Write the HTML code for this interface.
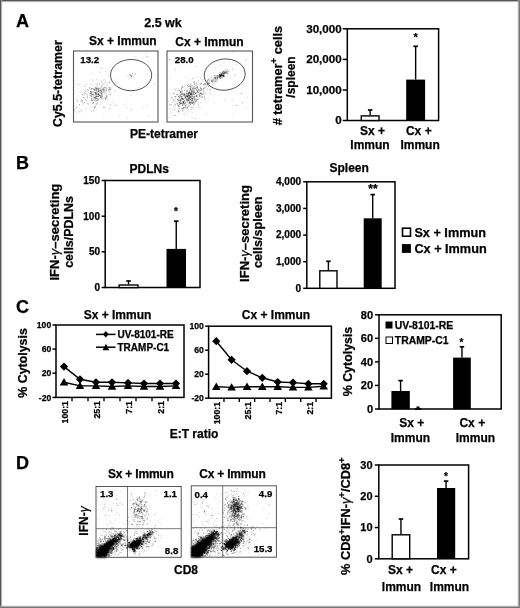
<!DOCTYPE html>
<html><head><meta charset="utf-8"><style>
html,body{margin:0;padding:0;background:#fff;}
body{width:520px;height:608px;overflow:hidden;position:relative;}
svg{position:absolute;left:0;top:0;will-change:transform;}
.fr{position:absolute;}
svg text{stroke:#000;stroke-width:0.25px;}
</style></head><body>
<svg width="520" height="608" viewBox="0 0 520 608" font-family="Liberation Sans" font-weight="bold">
<defs><filter id="bl" x="-20%" y="-20%" width="140%" height="140%"><feGaussianBlur stdDeviation="1.0"/></filter></defs>
<rect x="0" y="0" width="520" height="608" fill="#fff"/>
<text x="16" y="27" font-size="18" text-anchor="start">A</text>
<text x="163" y="27" font-size="12.5" text-anchor="middle">2.5 wk</text>
<text x="122.8" y="45.4" font-size="12" text-anchor="middle">Sx + Immun</text>
<text x="209.4" y="46" font-size="12" text-anchor="middle">Cx + Immun</text>
<text x="164" y="138" font-size="12" text-anchor="middle">PE-tetramer</text>
<text x="62" y="83.6" font-size="12.4" text-anchor="middle" transform="rotate(-90 62 83.6)">Cy5.5-tetramer</text>
<rect x="73.5" y="51" width="84.5" height="71" fill="none" stroke="#555" stroke-width="1.1"/>
<rect x="167" y="51" width="85.5" height="71" fill="none" stroke="#555" stroke-width="1.1"/>
<text x="80.3" y="63.2" font-size="9.7" text-anchor="start">13.2</text>
<text x="174.8" y="63.2" font-size="9.7" text-anchor="start">28.0</text>
<ellipse cx="131.1" cy="75.1" rx="20.6" ry="15.6" fill="none" stroke="#444" stroke-width="0.9"/>
<ellipse cx="224.7" cy="74.6" rx="20.5" ry="15.6" transform="rotate(-5 224.7 74.6)" fill="none" stroke="#444" stroke-width="0.9"/>
<path d="M104.2 94.3h0M104.2 93.7h0M94.7 95.4h0M86.2 101.3h0M109.3 92.8h0M99.0 95.2h0M99.1 94.0h0M94.1 90.5h0M90.9 93.3h0M99.8 86.3h0M101.4 97.0h0M89.9 92.8h0M104.2 92.5h0M100.4 95.5h0M98.8 92.1h0M100.4 90.1h0M99.4 95.6h0M97.0 94.4h0M91.9 98.5h0M95.5 93.2h0M98.0 96.3h0M97.1 94.0h0M102.0 95.1h0M103.3 87.6h0M96.9 98.3h0" stroke="#000" stroke-opacity="0.2" stroke-width="0.9" stroke-linecap="square" fill="none"/>
<path d="M89.7 97.4h0M101.8 95.0h0M98.8 91.0h0M104.6 90.0h0M96.6 98.5h0M101.4 85.8h0M90.9 95.4h0M102.2 93.1h0M91.2 85.0h0M94.0 97.4h0M90.3 89.3h0M97.0 88.8h0M103.4 91.2h0M106.9 88.5h0M106.4 90.3h0M93.7 94.3h0M99.1 90.6h0M96.6 98.9h0M102.1 90.1h0M84.8 92.8h0M95.8 94.3h0M86.3 94.6h0M92.4 94.1h0M97.9 83.6h0M108.1 82.9h0" stroke="#000" stroke-opacity="0.2" stroke-width="0.9" stroke-linecap="square" fill="none"/>
<path d="M99.2 95.1h0M101.3 94.2h0M100.0 104.2h0M94.7 97.3h0M95.8 94.7h0M91.5 91.8h0M101.0 95.0h0M97.9 90.1h0M87.9 93.8h0M106.3 93.6h0M108.8 94.1h0M97.2 96.1h0M101.1 93.7h0M93.3 102.4h0M92.9 95.3h0M101.9 92.9h0M96.1 88.5h0M82.0 100.3h0M90.0 84.1h0M92.0 97.9h0M96.9 96.8h0M96.0 97.6h0M93.3 95.8h0M94.8 98.7h0M99.3 98.5h0" stroke="#000" stroke-opacity="0.2" stroke-width="0.9" stroke-linecap="square" fill="none"/>
<path d="M96.7 96.1h0M98.3 93.8h0M101.7 89.4h0M92.9 88.8h0M100.4 93.4h0M97.0 95.8h0M104.5 90.9h0M90.1 91.7h0M94.2 100.5h0M93.5 88.6h0M89.8 95.7h0M107.1 97.5h0M112.1 87.9h0M92.1 96.6h0M104.7 87.0h0M103.0 89.0h0M104.6 91.8h0M95.9 96.7h0M92.0 103.6h0M97.1 85.2h0M95.4 98.8h0M105.7 91.3h0M92.3 97.0h0M106.9 96.1h0M101.5 91.2h0" stroke="#000" stroke-opacity="0.2" stroke-width="0.9" stroke-linecap="square" fill="none"/>
<path d="M92.8 95.1h0M87.1 94.8h0M93.7 92.0h0M100.0 92.0h0M94.4 100.4h0M98.9 95.8h0M103.3 89.1h0M115.2 79.9h0M99.7 95.5h0M95.4 96.2h0M97.0 89.3h0M90.8 95.2h0M100.0 90.7h0M97.1 98.6h0M97.0 96.2h0M80.3 101.2h0M88.8 90.6h0M98.5 96.3h0M84.7 93.1h0M93.6 94.6h0M79.7 84.4h0M92.1 88.6h0M77.0 99.2h0M95.5 97.1h0M79.0 104.8h0" stroke="#000" stroke-opacity="0.2" stroke-width="0.9" stroke-linecap="square" fill="none"/>
<path d="M100.7 80.2h0M103.8 114.8h0M98.7 88.5h0M87.3 96.9h0M102.3 100.2h0M101.6 92.8h0M104.7 89.6h0M113.3 85.3h0M89.0 89.2h0M91.4 100.4h0M117.1 105.6h0M91.5 96.9h0M76.2 113.0h0M78.2 112.6h0M98.1 94.9h0M103.8 88.4h0M111.0 88.3h0M92.8 88.2h0M75.9 84.0h0M106.4 90.0h0M104.1 79.7h0M90.1 102.8h0M96.0 91.4h0M95.2 88.5h0M109.9 94.0h0" stroke="#000" stroke-opacity="0.2" stroke-width="0.9" stroke-linecap="square" fill="none"/>
<path d="M94.5 98.7h0M76.1 99.4h0M96.2 103.6h0M90.8 106.6h0M94.4 89.4h0M85.6 93.5h0M109.3 91.3h0M109.3 75.7h0M93.4 99.5h0M78.3 111.1h0M107.7 99.3h0M97.3 102.5h0M97.6 100.7h0M90.3 91.3h0M86.6 108.3h0M90.9 95.0h0M83.0 104.3h0M86.7 100.6h0M104.9 90.6h0M106.4 92.3h0M93.9 89.5h0M74.3 109.5h0M96.1 96.0h0M78.3 84.2h0M86.7 91.1h0" stroke="#000" stroke-opacity="0.2" stroke-width="0.9" stroke-linecap="square" fill="none"/>
<path d="M101.0 99.2h0M100.1 92.0h0M105.6 71.5h0M75.2 111.5h0M98.6 89.4h0M83.3 103.7h0M97.8 92.9h0M107.0 100.1h0M87.8 91.4h0M84.0 93.0h0M82.8 100.8h0M84.8 90.5h0M96.8 79.7h0M100.8 102.5h0M103.8 99.6h0M81.6 101.7h0M97.5 84.3h0M92.5 79.9h0M99.0 92.8h0M91.5 111.4h0M97.4 100.9h0M93.6 97.4h0M106.1 99.5h0M79.5 111.9h0M124.9 104.8h0" stroke="#000" stroke-opacity="0.2" stroke-width="0.9" stroke-linecap="square" fill="none"/>
<path d="M78.1 108.3h0M110.7 90.8h0M96.2 85.5h0M79.8 91.9h0M98.1 94.3h0M85.5 91.1h0M100.1 91.1h0M93.5 93.8h0M133.0 77.3h0M131.0 77.8h0M129.7 74.7h0M133.1 75.8h0M119.4 116.0h0M90.8 93.3h0M126.8 107.3h0M99.7 72.4h0M147.0 105.2h0M75.0 109.4h0M112.4 102.4h0M92.9 59.2h0M77.7 74.8h0M131.2 109.5h0M96.2 89.7h0M138.8 87.6h0M126.8 117.6h0" stroke="#000" stroke-opacity="0.2" stroke-width="0.9" stroke-linecap="square" fill="none"/>
<path d="M146.2 53.0h0M125.9 99.1h0M131.4 110.3h0M133.6 90.8h0M91.8 94.3h0M148.7 61.8h0M83.2 115.2h0M86.1 54.0h0M130.9 95.1h0M134.5 56.5h0M149.0 116.2h0M91.3 59.6h0M143.6 107.2h0M141.7 94.9h0M82.6 58.7h0M91.2 73.7h0M194.3 94.1h0M187.6 91.4h0M186.6 90.4h0M189.2 96.2h0M190.5 79.8h0M201.6 96.2h0M185.4 101.8h0M192.9 91.5h0M191.3 97.6h0" stroke="#000" stroke-opacity="0.2" stroke-width="0.9" stroke-linecap="square" fill="none"/>
<path d="M185.1 103.9h0M192.3 102.0h0M190.9 100.5h0M185.2 105.1h0M181.7 87.8h0M170.1 105.8h0M196.9 89.9h0M187.5 98.2h0M197.0 89.8h0M191.2 89.6h0M188.8 102.0h0M200.2 91.0h0M188.2 95.7h0M198.8 89.0h0M192.1 96.4h0M190.1 90.4h0M199.2 85.6h0M195.6 88.1h0M196.3 94.9h0M182.3 87.2h0M186.0 101.7h0M186.9 96.5h0M177.5 103.8h0M189.9 98.7h0M199.6 91.3h0" stroke="#000" stroke-opacity="0.2" stroke-width="0.9" stroke-linecap="square" fill="none"/>
<path d="M189.6 104.9h0M196.0 85.6h0M188.8 95.3h0M181.5 91.1h0M184.8 106.4h0M194.2 88.6h0M185.2 87.7h0M188.9 96.4h0M184.4 99.0h0M185.2 95.8h0M184.2 103.8h0M180.0 100.8h0M189.0 97.6h0M190.2 97.6h0M203.5 85.2h0M183.3 95.4h0M183.0 102.6h0M210.2 82.4h0M176.7 88.7h0M189.2 93.3h0M191.5 98.4h0M192.1 97.7h0M187.0 90.0h0M182.7 110.0h0M187.8 100.8h0" stroke="#000" stroke-opacity="0.2" stroke-width="0.9" stroke-linecap="square" fill="none"/>
<path d="M191.8 93.5h0M183.8 113.5h0M191.2 90.1h0M190.8 102.3h0M189.9 97.7h0M182.6 94.8h0M192.5 87.5h0M175.0 104.2h0M194.7 83.1h0M189.7 99.2h0M189.0 106.4h0M197.9 96.8h0M178.2 99.8h0M196.6 85.9h0M190.1 90.5h0M204.8 85.2h0M187.6 96.6h0M188.0 104.9h0M194.5 92.0h0M197.1 90.4h0M180.5 101.4h0M191.6 96.9h0M184.2 100.8h0M187.1 100.8h0M184.5 114.4h0" stroke="#000" stroke-opacity="0.2" stroke-width="0.9" stroke-linecap="square" fill="none"/>
<path d="M189.6 92.5h0M194.2 89.2h0M178.2 103.4h0M181.4 99.5h0M189.9 95.2h0M192.9 88.2h0M184.5 98.0h0M199.0 91.1h0M172.6 109.5h0M188.6 95.5h0M197.0 84.1h0M193.2 103.3h0M187.4 108.1h0M203.4 90.5h0M193.6 97.5h0M193.0 96.8h0M168.7 101.4h0M190.3 88.5h0M184.9 101.4h0M208.3 99.1h0M182.0 105.7h0M210.8 93.7h0M200.5 89.6h0M192.8 88.4h0M189.5 103.8h0" stroke="#000" stroke-opacity="0.2" stroke-width="0.9" stroke-linecap="square" fill="none"/>
<path d="M169.6 104.5h0M193.8 100.9h0M198.0 91.5h0M199.2 98.8h0M185.7 98.9h0M193.7 87.6h0M192.2 100.9h0M204.9 92.7h0M198.6 102.9h0M186.4 112.1h0M169.4 108.6h0M194.5 100.3h0M169.2 117.5h0M201.4 88.5h0M183.4 99.3h0M187.4 113.8h0M183.4 102.5h0M194.2 109.9h0M175.3 100.2h0M190.5 87.6h0M180.4 96.3h0M182.0 109.3h0M179.4 96.7h0M187.8 99.3h0M189.8 99.8h0" stroke="#000" stroke-opacity="0.2" stroke-width="0.9" stroke-linecap="square" fill="none"/>
<path d="M182.1 87.8h0M175.2 107.2h0M189.2 111.5h0M184.2 94.1h0M204.3 83.6h0M192.0 95.5h0M192.0 101.4h0M198.2 94.3h0M198.0 106.6h0M187.2 90.6h0M198.6 80.5h0M209.8 92.5h0M196.9 94.9h0M189.0 92.6h0M185.3 89.3h0M194.2 92.3h0M205.5 93.3h0M180.0 91.6h0M198.6 95.2h0M191.9 101.6h0M184.6 86.1h0M189.7 105.4h0M198.4 89.6h0M193.6 91.4h0M178.9 112.5h0" stroke="#000" stroke-opacity="0.2" stroke-width="0.9" stroke-linecap="square" fill="none"/>
<path d="M189.4 91.0h0M179.0 94.5h0M191.6 91.6h0M187.6 101.7h0M183.9 99.1h0M178.8 101.3h0M189.0 92.6h0M203.1 89.5h0M177.3 100.9h0M184.2 92.8h0M190.7 96.8h0M193.9 88.5h0M188.5 89.0h0M193.4 88.1h0M189.2 98.2h0M174.9 90.5h0M210.9 77.1h0M182.6 98.4h0M185.1 95.8h0M191.7 96.2h0M200.7 78.4h0M181.0 101.9h0M177.5 99.4h0M194.4 91.3h0M175.7 104.5h0" stroke="#000" stroke-opacity="0.2" stroke-width="0.9" stroke-linecap="square" fill="none"/>
<path d="M190.6 98.6h0M203.9 87.9h0M204.4 94.8h0M173.2 103.2h0M195.2 104.9h0M202.9 96.9h0M179.0 95.6h0M178.9 96.5h0M198.8 107.7h0M205.7 100.2h0M200.2 97.4h0M175.1 101.8h0M184.2 96.0h0M185.2 95.7h0M172.5 98.1h0M214.3 102.9h0M205.6 98.9h0M202.3 109.1h0M189.9 91.4h0M196.6 95.3h0M203.7 91.6h0M183.7 109.9h0M193.6 90.8h0M178.9 111.2h0M191.6 91.4h0" stroke="#000" stroke-opacity="0.2" stroke-width="0.9" stroke-linecap="square" fill="none"/>
<path d="M186.9 77.3h0M203.4 93.6h0M170.1 98.6h0M203.7 85.1h0M204.2 99.6h0M180.4 96.9h0M172.7 99.1h0M190.7 94.9h0M189.9 93.6h0M195.9 82.4h0M171.5 112.6h0M197.7 96.1h0M194.0 100.8h0M179.4 95.8h0M203.5 91.1h0M194.9 95.1h0M187.8 102.8h0M187.9 106.8h0M191.4 83.9h0M183.2 103.1h0M207.1 75.7h0M182.8 111.2h0M173.4 101.1h0M178.5 100.7h0M190.0 103.1h0" stroke="#000" stroke-opacity="0.2" stroke-width="0.9" stroke-linecap="square" fill="none"/>
<path d="M211.2 88.6h0M175.6 104.4h0M191.0 97.9h0M182.6 110.4h0M185.1 95.8h0M177.2 111.2h0M191.8 92.8h0M196.1 89.6h0M195.5 94.3h0M186.8 91.4h0M184.7 93.3h0M203.5 88.2h0M197.2 77.7h0M193.6 98.2h0M191.3 102.1h0M182.3 91.9h0M187.0 99.1h0M203.8 93.7h0M174.2 101.8h0M203.2 94.6h0M186.7 100.0h0M200.7 102.4h0M193.5 86.6h0M177.1 95.0h0M181.1 94.6h0" stroke="#000" stroke-opacity="0.2" stroke-width="0.9" stroke-linecap="square" fill="none"/>
<path d="M188.1 109.0h0M190.5 88.6h0M201.0 90.3h0M190.0 96.4h0M178.4 88.4h0M196.9 92.7h0M191.2 96.2h0M201.1 95.1h0M199.8 109.3h0M193.1 98.6h0M223.6 73.2h0M222.7 78.5h0M209.4 80.2h0M210.9 80.2h0M213.7 83.2h0M219.2 75.3h0M214.2 83.1h0M207.7 85.5h0M223.7 76.3h0M222.5 75.7h0M216.0 78.7h0M207.5 83.8h0M218.0 78.1h0M226.8 71.7h0M211.4 80.4h0" stroke="#000" stroke-opacity="0.2" stroke-width="0.9" stroke-linecap="square" fill="none"/>
<path d="M214.8 78.5h0M216.3 79.8h0M215.1 78.4h0M214.5 79.3h0M227.2 72.8h0M222.7 73.6h0M221.9 75.4h0M216.6 77.4h0M209.3 80.2h0M224.0 72.4h0M224.5 72.8h0M208.6 83.2h0M222.1 74.9h0M217.3 78.2h0M220.1 72.6h0M217.9 77.0h0M215.4 80.4h0M209.6 81.8h0M222.1 73.8h0M213.2 80.2h0M215.1 80.4h0M215.1 76.8h0M227.0 71.8h0M212.4 78.7h0M222.3 72.4h0" stroke="#000" stroke-opacity="0.2" stroke-width="0.9" stroke-linecap="square" fill="none"/>
<path d="M203.3 84.6h0M224.3 71.6h0M217.5 78.7h0M221.1 74.6h0M223.3 73.3h0M228.5 70.8h0M204.3 88.0h0M212.8 80.2h0M224.3 70.7h0M204.9 84.8h0M225.8 72.5h0M208.1 79.5h0M217.5 75.7h0M219.9 76.9h0M207.6 88.8h0M217.2 75.4h0M216.3 78.4h0M220.3 74.8h0M226.1 73.2h0M229.9 62.4h0M170.6 78.7h0M192.1 112.6h0M215.7 67.9h0M232.7 100.3h0M171.4 94.0h0" stroke="#000" stroke-opacity="0.2" stroke-width="0.9" stroke-linecap="square" fill="none"/>
<path d="M206.1 114.6h0M245.6 80.0h0M175.3 68.6h0M224.0 62.3h0M179.6 65.5h0M233.3 84.6h0M232.3 113.8h0M220.5 65.5h0M237.8 105.5h0M227.2 75.7h0M247.7 97.7h0M234.2 92.1h0M192.7 117.3h0M187.1 65.5h0M224.5 100.3h0M232.7 106.0h0M245.7 108.2h0M233.4 52.3h0M202.5 93.1h0M195.7 66.5h0M237.7 94.1h0M175.3 70.4h0M178.0 98.4h0M235.9 64.5h0M247.0 76.6h0" stroke="#000" stroke-opacity="0.2" stroke-width="0.9" stroke-linecap="square" fill="none"/>
<path d="M95.3 96.9h0M98.5 99.9h0M91.2 93.6h0M98.7 90.8h0M93.0 91.9h0M89.9 93.7h0M96.3 90.5h0M102.0 95.7h0M91.6 88.9h0M101.0 90.0h0M105.4 82.1h0M95.8 93.0h0M84.7 86.3h0M95.6 98.8h0M98.7 94.6h0M84.2 95.0h0M88.5 104.0h0M97.8 99.0h0M91.3 100.1h0M94.1 89.7h0M96.0 92.9h0M99.5 84.1h0M106.1 97.4h0M95.5 94.2h0M109.8 88.8h0" stroke="#000" stroke-opacity="0.4" stroke-width="0.9" stroke-linecap="square" fill="none"/>
<path d="M98.1 88.1h0M94.8 97.5h0M109.7 89.3h0M114.8 83.3h0M98.4 96.5h0M107.1 85.7h0M89.4 87.8h0M98.4 89.6h0M99.6 95.1h0M98.3 91.2h0M106.3 89.9h0M103.3 90.1h0M95.7 97.7h0M103.7 89.3h0M97.2 94.3h0M100.5 97.5h0M91.6 94.3h0M98.1 88.3h0M91.1 92.3h0M94.5 90.1h0M81.7 100.2h0M82.5 94.5h0M91.5 88.7h0M102.8 98.2h0M105.4 98.8h0" stroke="#000" stroke-opacity="0.4" stroke-width="0.9" stroke-linecap="square" fill="none"/>
<path d="M77.4 101.2h0M100.6 97.0h0M96.8 93.2h0M108.4 89.7h0M84.4 102.6h0M96.8 96.7h0M110.8 94.5h0M97.9 91.9h0M92.6 100.3h0M96.6 96.5h0M99.9 88.7h0M100.3 89.0h0M102.0 86.2h0M98.7 94.8h0M104.1 84.0h0M95.6 106.1h0M92.3 94.4h0M91.6 99.2h0M97.9 99.8h0M97.0 87.3h0M100.7 92.6h0M95.8 93.3h0M104.1 87.8h0M98.4 91.3h0M84.7 97.6h0" stroke="#000" stroke-opacity="0.4" stroke-width="0.9" stroke-linecap="square" fill="none"/>
<path d="M101.0 87.4h0M106.8 96.3h0M90.7 91.3h0M96.5 94.2h0M96.9 88.6h0M95.7 93.0h0M96.4 91.1h0M87.2 97.9h0M100.0 95.9h0M101.8 93.9h0M85.4 99.7h0M101.2 91.6h0M102.0 96.8h0M105.1 97.8h0M106.2 87.9h0M110.0 87.4h0M87.2 89.6h0M96.2 89.3h0M94.0 98.1h0M102.0 91.9h0M96.6 100.1h0M101.8 93.9h0M102.4 96.2h0M109.1 87.7h0M98.6 93.7h0" stroke="#000" stroke-opacity="0.4" stroke-width="0.9" stroke-linecap="square" fill="none"/>
<path d="M102.8 89.0h0M103.5 92.0h0M102.8 84.2h0M87.3 96.0h0M95.3 88.0h0M96.8 88.5h0M94.8 107.3h0M95.9 101.2h0M94.2 107.9h0M95.7 87.7h0M79.6 104.8h0M106.2 95.7h0M109.5 82.4h0M92.9 103.3h0M81.2 110.6h0M76.4 107.5h0M103.1 90.0h0M115.1 90.8h0M96.4 104.4h0M82.3 102.1h0M103.8 107.1h0M119.7 87.2h0M85.9 84.4h0M91.9 92.0h0M95.2 99.9h0" stroke="#000" stroke-opacity="0.4" stroke-width="0.9" stroke-linecap="square" fill="none"/>
<path d="M101.3 81.9h0M105.9 98.4h0M110.6 89.6h0M93.7 110.2h0M91.9 101.0h0M101.0 96.4h0M87.2 103.7h0M105.3 87.5h0M115.1 105.2h0M91.0 96.2h0M98.2 89.8h0M97.1 103.1h0M101.5 98.1h0M95.2 92.6h0M91.7 93.0h0M83.3 97.4h0M110.5 104.3h0M108.9 90.7h0M101.2 91.0h0M95.3 89.9h0M109.9 108.7h0M100.8 90.5h0M94.8 92.3h0M94.6 107.3h0M130.6 75.5h0" stroke="#000" stroke-opacity="0.4" stroke-width="0.9" stroke-linecap="square" fill="none"/>
<path d="M131.3 76.7h0M131.5 76.7h0M131.3 75.5h0M132.6 73.4h0M131.0 75.2h0M129.9 74.5h0M128.1 76.1h0M93.7 102.6h0M135.3 74.2h0M101.3 68.3h0M154.3 83.9h0M104.1 107.6h0M147.1 56.5h0M187.7 95.6h0M177.9 104.9h0M192.3 100.5h0M188.0 100.3h0M185.6 97.6h0M199.8 95.8h0M191.3 87.2h0M189.8 101.9h0M189.3 86.4h0M194.7 86.4h0M192.6 99.6h0M185.8 96.1h0" stroke="#000" stroke-opacity="0.4" stroke-width="0.9" stroke-linecap="square" fill="none"/>
<path d="M192.2 85.7h0M179.0 106.5h0M179.1 100.6h0M195.0 99.2h0M188.1 84.1h0M178.6 96.6h0M184.7 90.7h0M178.3 105.7h0M185.4 94.6h0M179.6 102.5h0M182.1 91.1h0M181.2 96.4h0M191.6 103.1h0M188.1 97.0h0M179.5 104.6h0M188.5 100.2h0M183.8 93.7h0M191.7 109.1h0M183.3 99.6h0M198.4 99.2h0M192.3 90.9h0M189.2 100.7h0M180.0 103.7h0M191.5 91.7h0M177.7 99.5h0" stroke="#000" stroke-opacity="0.4" stroke-width="0.9" stroke-linecap="square" fill="none"/>
<path d="M189.4 98.9h0M180.8 100.2h0M180.2 101.5h0M192.7 89.7h0M191.7 94.2h0M187.9 95.5h0M197.3 91.4h0M190.5 94.4h0M183.7 103.2h0M189.6 91.9h0M185.5 107.8h0M183.4 98.5h0M197.1 88.1h0M181.4 93.3h0M187.0 93.4h0M189.8 97.0h0M197.8 87.7h0M194.4 84.6h0M188.7 100.9h0M185.9 102.9h0M191.1 94.2h0M175.0 96.7h0M195.9 93.3h0M207.2 81.5h0M186.2 98.7h0" stroke="#000" stroke-opacity="0.4" stroke-width="0.9" stroke-linecap="square" fill="none"/>
<path d="M189.9 96.3h0M200.5 93.7h0M181.4 93.1h0M182.8 104.3h0M182.4 105.2h0M200.5 87.3h0M184.2 95.4h0M194.2 90.1h0M194.3 83.1h0M182.8 87.4h0M190.0 103.2h0M189.1 86.0h0M199.8 96.3h0M195.4 88.5h0M193.6 101.8h0M182.5 96.8h0M186.7 99.0h0M189.9 92.4h0M175.8 98.1h0M194.2 92.5h0M177.9 90.3h0M194.2 94.6h0M200.8 93.4h0M186.4 93.0h0M188.8 99.0h0" stroke="#000" stroke-opacity="0.4" stroke-width="0.9" stroke-linecap="square" fill="none"/>
<path d="M188.5 95.4h0M191.9 92.6h0M183.7 94.0h0M192.5 88.6h0M192.8 91.0h0M186.9 99.9h0M186.6 93.7h0M190.9 93.9h0M202.2 90.0h0M194.1 102.4h0M191.6 102.2h0M199.4 94.8h0M194.2 103.4h0M192.5 99.0h0M197.5 92.3h0M185.5 97.4h0M187.3 91.4h0M180.6 100.1h0M198.4 92.5h0M194.8 97.9h0M188.3 99.1h0M194.5 99.3h0M190.3 93.9h0M180.3 103.8h0M186.4 96.8h0" stroke="#000" stroke-opacity="0.4" stroke-width="0.9" stroke-linecap="square" fill="none"/>
<path d="M190.4 94.4h0M173.6 99.8h0M189.0 102.8h0M186.9 94.7h0M182.0 94.6h0M192.3 102.9h0M179.8 98.0h0M182.1 98.8h0M189.6 102.9h0M183.3 102.6h0M188.7 92.9h0M182.7 105.7h0M196.6 84.0h0M188.2 87.1h0M176.9 103.2h0M200.9 90.7h0M171.0 104.5h0M183.7 95.0h0M182.1 103.7h0M187.7 99.6h0M193.6 92.9h0M180.6 99.2h0M183.9 101.7h0M178.9 111.7h0M185.8 97.1h0" stroke="#000" stroke-opacity="0.4" stroke-width="0.9" stroke-linecap="square" fill="none"/>
<path d="M181.7 103.6h0M202.2 79.9h0M203.6 88.5h0M192.2 98.4h0M182.5 93.4h0M189.0 98.4h0M194.8 88.3h0M201.5 89.1h0M190.7 102.2h0M194.9 96.4h0M186.7 104.8h0M192.6 78.3h0M190.9 89.9h0M174.7 109.5h0M188.1 99.8h0M182.5 86.1h0M188.0 106.4h0M190.5 96.0h0M187.6 96.2h0M179.5 90.6h0M175.2 89.2h0M198.4 104.8h0M179.0 97.3h0M195.1 101.2h0M173.9 106.0h0" stroke="#000" stroke-opacity="0.4" stroke-width="0.9" stroke-linecap="square" fill="none"/>
<path d="M207.5 80.5h0M184.8 107.5h0M199.6 96.0h0M200.7 84.5h0M193.2 102.7h0M184.5 100.7h0M196.6 100.9h0M182.6 99.1h0M201.1 92.7h0M171.5 97.3h0M183.9 103.9h0M198.3 89.8h0M193.6 104.7h0M200.1 83.8h0M187.2 97.0h0M223.3 71.8h0M207.4 84.5h0M205.2 84.1h0M204.8 83.9h0M217.2 81.5h0M223.3 73.7h0M213.2 81.5h0M208.7 83.1h0M225.2 71.6h0M217.4 78.1h0" stroke="#000" stroke-opacity="0.4" stroke-width="0.9" stroke-linecap="square" fill="none"/>
<path d="M219.6 76.6h0M213.6 78.9h0M225.8 72.8h0M207.5 84.3h0M208.5 83.2h0M214.8 81.7h0M209.0 78.9h0M205.1 87.7h0M207.5 82.7h0M208.7 83.7h0M212.3 85.0h0M211.9 81.5h0M215.3 78.9h0M215.5 81.5h0M218.4 76.7h0M223.2 76.7h0M228.9 71.4h0M211.4 81.4h0M225.3 72.9h0M221.0 75.6h0M213.0 80.3h0M225.0 72.0h0M220.0 76.7h0M221.3 72.9h0M219.7 74.4h0" stroke="#000" stroke-opacity="0.4" stroke-width="0.9" stroke-linecap="square" fill="none"/>
<path d="M211.5 80.9h0M225.7 69.8h0M209.6 83.6h0M223.7 71.3h0M226.0 72.8h0M224.3 73.2h0M217.0 79.1h0M221.9 77.4h0M208.4 80.0h0M216.3 80.3h0M223.7 72.0h0M227.3 70.2h0M226.6 72.2h0M217.0 76.2h0M220.6 73.3h0M205.7 84.0h0M208.5 86.5h0M206.4 86.7h0M221.8 73.7h0M215.5 78.6h0M211.7 77.4h0M224.5 73.5h0M212.5 82.0h0M211.9 80.0h0M214.8 75.7h0" stroke="#000" stroke-opacity="0.4" stroke-width="0.9" stroke-linecap="square" fill="none"/>
<path d="M226.8 71.7h0M219.9 74.9h0M221.3 75.9h0M220.4 75.1h0M219.5 77.4h0M220.4 75.9h0M217.2 77.5h0M214.5 77.6h0M219.8 75.7h0M221.9 77.9h0M215.0 75.6h0M224.8 73.7h0M219.5 77.1h0M218.4 75.6h0M223.5 75.9h0M218.1 77.7h0M224.2 77.0h0M223.3 75.7h0M217.8 76.2h0M221.9 76.4h0M215.1 77.4h0M217.1 76.0h0M188.3 92.7h0M235.2 75.3h0M195.3 118.4h0" stroke="#000" stroke-opacity="0.4" stroke-width="0.9" stroke-linecap="square" fill="none"/>
<path d="M179.1 108.3h0M242.6 102.7h0M236.1 105.3h0M246.0 59.9h0M233.0 69.1h0M187.5 85.5h0M175.2 96.4h0M196.0 92.5h0M169.3 59.5h0M204.5 96.9h0M241.4 93.5h0" stroke="#000" stroke-opacity="0.4" stroke-width="0.9" stroke-linecap="square" fill="none"/>
<path d="M197.1 90.8h0M191.0 93.2h0M180.9 100.2h0M191.7 90.9h0M183.3 101.9h0M190.5 99.5h0M182.2 99.1h0M185.5 105.9h0M186.9 100.2h0M188.6 93.6h0M194.5 96.7h0M190.5 104.2h0M190.6 86.6h0M185.0 97.0h0M179.0 100.0h0M181.9 98.5h0M189.3 93.0h0M197.3 99.2h0M180.7 91.9h0M178.6 110.7h0M201.3 94.0h0M189.8 92.6h0M196.4 87.7h0M181.7 89.0h0M189.5 95.3h0" stroke="#000" stroke-opacity="0.6" stroke-width="0.9" stroke-linecap="square" fill="none"/>
<path d="M184.5 94.5h0M181.1 103.0h0M199.1 90.0h0M180.5 95.8h0M199.9 93.2h0M193.5 94.0h0M181.0 94.5h0M192.4 95.1h0M191.9 94.1h0M193.9 92.0h0M187.3 94.0h0M183.0 101.5h0M188.3 98.2h0M173.8 93.5h0M177.0 94.4h0M180.8 103.3h0M190.6 94.2h0M187.0 107.8h0M196.7 96.1h0M192.6 103.3h0M190.0 102.9h0M190.3 96.8h0M209.9 89.9h0M190.3 89.5h0M190.4 85.0h0" stroke="#000" stroke-opacity="0.6" stroke-width="0.9" stroke-linecap="square" fill="none"/>
<path d="M201.4 83.2h0M196.2 100.1h0M189.6 97.1h0M192.0 107.5h0M202.2 97.3h0M192.1 98.3h0M191.4 94.6h0M174.9 115.6h0M191.9 100.2h0M188.6 94.3h0M182.1 108.5h0M187.8 96.6h0M202.2 94.2h0M187.6 96.4h0M195.1 98.9h0M195.7 101.9h0M183.4 102.4h0M182.1 98.3h0M185.2 103.0h0M194.2 81.9h0M200.9 88.6h0M180.5 92.4h0M196.5 96.2h0M195.5 93.4h0M192.9 96.8h0" stroke="#000" stroke-opacity="0.6" stroke-width="0.9" stroke-linecap="square" fill="none"/>
<path d="M192.1 93.0h0M178.3 105.8h0M183.6 107.4h0M186.4 96.0h0M183.0 108.5h0M181.5 96.9h0M190.3 88.5h0M179.9 103.1h0M184.2 104.0h0M191.9 99.0h0M197.4 86.8h0M222.0 73.8h0M222.5 72.2h0M220.4 76.5h0M219.7 75.2h0M223.6 75.4h0M227.6 73.3h0M220.3 76.8h0M215.4 77.5h0M220.9 74.8h0M220.7 76.0h0M223.9 75.4h0M219.7 75.9h0M224.1 72.5h0M223.4 75.7h0" stroke="#000" stroke-opacity="0.6" stroke-width="0.9" stroke-linecap="square" fill="none"/>
<path d="M224.0 74.0h0" stroke="#000" stroke-opacity="0.6" stroke-width="0.9" stroke-linecap="square" fill="none"/>
<path d="M221.8 74.7h0M219.8 75.1h0M220.7 75.3h0M223.1 74.3h0M223.9 76.3h0M221.7 74.7h0M220.2 78.3h0M221.7 75.7h0M222.4 75.7h0" stroke="#000" stroke-opacity="0.8" stroke-width="0.9" stroke-linecap="square" fill="none"/>
<rect x="347.3" y="28.8" width="91.30000000000001" height="91.7" fill="none" stroke="#000" stroke-width="1.5"/>
<line x1="342.7" y1="28.8" x2="347.3" y2="28.8" stroke="#000" stroke-width="1.5"/>
<text x="341.7" y="32.744" font-size="11.6" text-anchor="end">30,000</text>
<line x1="342.7" y1="59.4" x2="347.3" y2="59.4" stroke="#000" stroke-width="1.5"/>
<text x="341.7" y="63.344" font-size="11.6" text-anchor="end">20,000</text>
<line x1="342.7" y1="90" x2="347.3" y2="90" stroke="#000" stroke-width="1.5"/>
<text x="341.7" y="93.944" font-size="11.6" text-anchor="end">10,000</text>
<line x1="342.7" y1="120.5" x2="347.3" y2="120.5" stroke="#000" stroke-width="1.5"/>
<text x="341.7" y="124.444" font-size="11.6" text-anchor="end">0</text>
<line x1="370.15" y1="110" x2="370.15" y2="115.3" stroke="#000" stroke-width="1.4"/>
<line x1="367.9" y1="110" x2="372.4" y2="110" stroke="#000" stroke-width="1.68"/>
<rect x="361.3" y="115.89999999999999" width="17.700000000000035" height="4.600000000000003" fill="#fff" stroke="#000" stroke-width="1.4"/>
<line x1="415.65" y1="46.3" x2="415.65" y2="79.6" stroke="#000" stroke-width="1.4"/>
<line x1="413.4" y1="46.3" x2="417.9" y2="46.3" stroke="#000" stroke-width="1.68"/>
<rect x="406.2" y="79.6" width="18.900000000000034" height="40.900000000000006" fill="#000"/>
<text x="415.6" y="41" font-size="11" text-anchor="middle">*</text>
<text x="372.5" y="134.9" font-size="12" text-anchor="middle">Sx +</text>
<text x="370" y="148.8" font-size="12" text-anchor="middle">Immun</text>
<text x="418.8" y="134.9" font-size="12" text-anchor="middle">Cx +</text>
<text x="420.1" y="148.8" font-size="12" text-anchor="middle">Immun</text>
<text x="281.8" y="75.6" font-size="12.8" text-anchor="middle" transform="rotate(-90 281.8 75.6)"># tetramer<tspan font-size="9.5" dy="-4.5">+</tspan><tspan dy="4.5"> cells</tspan></text>
<text x="295" y="77" font-size="12" text-anchor="middle" transform="rotate(-90 295 77)">/spleen</text>
<text x="16" y="168.5" font-size="18" text-anchor="start">B</text>
<rect x="105.2" y="180.5" width="94.8" height="107.0" fill="none" stroke="#000" stroke-width="1.5"/>
<line x1="101.60000000000001" y1="180.5" x2="105.2" y2="180.5" stroke="#000" stroke-width="1.5"/>
<text x="100.00000000000001" y="183.9" font-size="10" text-anchor="end">150</text>
<line x1="101.60000000000001" y1="216.2" x2="105.2" y2="216.2" stroke="#000" stroke-width="1.5"/>
<text x="100.00000000000001" y="219.6" font-size="10" text-anchor="end">100</text>
<line x1="101.60000000000001" y1="251.8" x2="105.2" y2="251.8" stroke="#000" stroke-width="1.5"/>
<text x="100.00000000000001" y="255.20000000000002" font-size="10" text-anchor="end">50</text>
<line x1="101.60000000000001" y1="287.5" x2="105.2" y2="287.5" stroke="#000" stroke-width="1.5"/>
<text x="100.00000000000001" y="290.9" font-size="10" text-anchor="end">0</text>
<text x="149.2" y="172.7" font-size="12" text-anchor="middle">PDLNs</text>
<line x1="128.55" y1="281" x2="128.55" y2="284.4" stroke="#000" stroke-width="1.4"/>
<line x1="126.30000000000001" y1="281" x2="130.8" y2="281" stroke="#000" stroke-width="1.68"/>
<rect x="119.1" y="285.0" width="18.899999999999995" height="2.6000000000000454" fill="#fff" stroke="#000" stroke-width="1.4"/>
<line x1="176.25" y1="221.2" x2="176.25" y2="248.9" stroke="#000" stroke-width="1.4"/>
<line x1="174.0" y1="221.2" x2="178.5" y2="221.2" stroke="#000" stroke-width="1.68"/>
<rect x="166.5" y="248.9" width="19.5" height="38.70000000000002" fill="#000"/>
<text x="176" y="215" font-size="10" text-anchor="middle">*</text>
<text x="58.6" y="232.1" font-size="13" text-anchor="middle" transform="rotate(-90 58.6 232.1)">IFN-<tspan font-weight="normal" font-style="italic">γ</tspan>–secreting</text>
<text x="72.5" y="232" font-size="12.4" text-anchor="middle" transform="rotate(-90 72.5 232)">cells/PDLNs</text>
<rect x="306.8" y="181.8" width="88.19999999999999" height="106.5" fill="none" stroke="#000" stroke-width="1.5"/>
<line x1="303.2" y1="181.8" x2="306.8" y2="181.8" stroke="#000" stroke-width="1.5"/>
<text x="301.2" y="185.234" font-size="10.1" text-anchor="end">4,000</text>
<line x1="303.2" y1="208.4" x2="306.8" y2="208.4" stroke="#000" stroke-width="1.5"/>
<text x="301.2" y="211.834" font-size="10.1" text-anchor="end">3,000</text>
<line x1="303.2" y1="235.05" x2="306.8" y2="235.05" stroke="#000" stroke-width="1.5"/>
<text x="301.2" y="238.484" font-size="10.1" text-anchor="end">2,000</text>
<line x1="303.2" y1="261.7" x2="306.8" y2="261.7" stroke="#000" stroke-width="1.5"/>
<text x="301.2" y="265.134" font-size="10.1" text-anchor="end">1,000</text>
<line x1="303.2" y1="288.3" x2="306.8" y2="288.3" stroke="#000" stroke-width="1.5"/>
<text x="301.2" y="291.73400000000004" font-size="10.1" text-anchor="end">0</text>
<text x="349.2" y="171.6" font-size="12" text-anchor="middle">Spleen</text>
<line x1="328.4" y1="261.3" x2="328.4" y2="270.2" stroke="#000" stroke-width="1.4"/>
<line x1="326.15" y1="261.3" x2="330.65" y2="261.3" stroke="#000" stroke-width="1.68"/>
<rect x="319.8" y="270.8" width="17.200000000000035" height="17.50000000000002" fill="#fff" stroke="#000" stroke-width="1.4"/>
<line x1="372.7" y1="194.6" x2="372.7" y2="218.3" stroke="#000" stroke-width="1.4"/>
<line x1="370.45" y1="194.6" x2="374.95" y2="194.6" stroke="#000" stroke-width="1.68"/>
<rect x="363.7" y="218.3" width="18.0" height="70.0" fill="#000"/>
<text x="372.9" y="193.3" font-size="12" text-anchor="middle">**</text>
<text x="248.8" y="233.5" font-size="13" text-anchor="middle" transform="rotate(-90 248.8 233.5)">IFN-<tspan font-weight="normal" font-style="italic">γ</tspan>–secreting</text>
<text x="262.3" y="232.3" font-size="12.6" text-anchor="middle" transform="rotate(-90 262.3 232.3)">cells/spleen</text>
<rect x="402.5" y="228.2" width="8" height="8" fill="#fff" stroke="#000" stroke-width="1.6"/>
<text x="414.4" y="237" font-size="12.7" text-anchor="start">Sx + Immun</text>
<rect x="401.9" y="244.1" width="9" height="8.8" fill="#000"/>
<text x="414.4" y="253.1" font-size="12.7" text-anchor="start">Cx + Immun</text>
<text x="16" y="313.3" font-size="18" text-anchor="start">C</text>
<rect x="56" y="325" width="128" height="72.39999999999998" fill="none" stroke="#000" stroke-width="1.5"/>
<line x1="52.5" y1="325" x2="56" y2="325" stroke="#000" stroke-width="1.5"/>
<text x="51.2" y="328.1" font-size="8.6" text-anchor="end">100</text>
<line x1="52.5" y1="349.1" x2="56" y2="349.1" stroke="#000" stroke-width="1.5"/>
<text x="51.2" y="352.20000000000005" font-size="8.6" text-anchor="end">60</text>
<line x1="52.5" y1="373.2" x2="56" y2="373.2" stroke="#000" stroke-width="1.5"/>
<text x="51.2" y="376.3" font-size="8.6" text-anchor="end">20</text>
<line x1="52.5" y1="397.4" x2="56" y2="397.4" stroke="#000" stroke-width="1.5"/>
<text x="51.2" y="400.5" font-size="8.6" text-anchor="end">-20</text>
<line x1="72.0" y1="397.4" x2="72.0" y2="401.2" stroke="#000" stroke-width="1.4"/>
<line x1="88.0" y1="397.4" x2="88.0" y2="401.2" stroke="#000" stroke-width="1.4"/>
<line x1="104.0" y1="397.4" x2="104.0" y2="401.2" stroke="#000" stroke-width="1.4"/>
<line x1="120.0" y1="397.4" x2="120.0" y2="401.2" stroke="#000" stroke-width="1.4"/>
<line x1="136.0" y1="397.4" x2="136.0" y2="401.2" stroke="#000" stroke-width="1.4"/>
<line x1="152.0" y1="397.4" x2="152.0" y2="401.2" stroke="#000" stroke-width="1.4"/>
<line x1="168.0" y1="397.4" x2="168.0" y2="401.2" stroke="#000" stroke-width="1.4"/>
<polyline fill="none" stroke="#000" stroke-width="1.4" points="64.0,366.6 80.0,379.3 96.0,382.3 112.0,382.3 128.0,382.9 144.0,383.5 160.0,383.5 176.0,383.5"/>
<polyline fill="none" stroke="#000" stroke-width="1.4" points="64.0,382.3 80.0,385.9 96.0,385.9 112.0,386.5 128.0,385.9 144.0,386.5 160.0,386.5 176.0,385.9"/>
<polygon points="64.0,362.5 68.1,366.6 64.0,370.7 59.9,366.6" fill="#000"/>
<polygon points="80.0,375.2 84.1,379.3 80.0,383.4 75.9,379.3" fill="#000"/>
<polygon points="96.0,378.2 100.1,382.3 96.0,386.4 91.9,382.3" fill="#000"/>
<polygon points="112.0,378.2 116.1,382.3 112.0,386.4 107.9,382.3" fill="#000"/>
<polygon points="128.0,378.8 132.1,382.9 128.0,387.0 123.9,382.9" fill="#000"/>
<polygon points="144.0,379.4 148.1,383.5 144.0,387.6 139.9,383.5" fill="#000"/>
<polygon points="160.0,379.4 164.1,383.5 160.0,387.6 155.9,383.5" fill="#000"/>
<polygon points="176.0,379.4 180.1,383.5 176.0,387.6 171.9,383.5" fill="#000"/>
<polygon points="64.0,378.1 68.3,385.5 59.7,385.5" fill="#000"/>
<polygon points="80.0,381.7 84.3,389.1 75.7,389.1" fill="#000"/>
<polygon points="96.0,381.7 100.3,389.1 91.7,389.1" fill="#000"/>
<polygon points="112.0,382.3 116.3,389.7 107.7,389.7" fill="#000"/>
<polygon points="128.0,381.7 132.3,389.1 123.7,389.1" fill="#000"/>
<polygon points="144.0,382.3 148.3,389.7 139.7,389.7" fill="#000"/>
<polygon points="160.0,382.3 164.3,389.7 155.7,389.7" fill="#000"/>
<polygon points="176.0,381.7 180.3,389.1 171.7,389.1" fill="#000"/>
<text x="68.2" y="401.0" font-size="8.8" text-anchor="end" transform="rotate(-90 68.2 401.0)">100:1</text>
<text x="100.2" y="401.0" font-size="8.8" text-anchor="end" transform="rotate(-90 100.2 401.0)">25:1</text>
<text x="132.2" y="401.0" font-size="8.8" text-anchor="end" transform="rotate(-90 132.2 401.0)">7:1</text>
<text x="164.2" y="401.0" font-size="8.8" text-anchor="end" transform="rotate(-90 164.2 401.0)">2:1</text>
<text x="117.5" y="319" font-size="12" text-anchor="middle">Sx + Immun</text>
<rect x="208.6" y="326.2" width="122.79999999999998" height="72.0" fill="none" stroke="#000" stroke-width="1.5"/>
<line x1="205.1" y1="326.2" x2="208.6" y2="326.2" stroke="#000" stroke-width="1.5"/>
<text x="203.79999999999998" y="329.3" font-size="8.6" text-anchor="end">100</text>
<line x1="205.1" y1="350.2" x2="208.6" y2="350.2" stroke="#000" stroke-width="1.5"/>
<text x="203.79999999999998" y="353.3" font-size="8.6" text-anchor="end">60</text>
<line x1="205.1" y1="374.2" x2="208.6" y2="374.2" stroke="#000" stroke-width="1.5"/>
<text x="203.79999999999998" y="377.3" font-size="8.6" text-anchor="end">20</text>
<line x1="205.1" y1="398.2" x2="208.6" y2="398.2" stroke="#000" stroke-width="1.5"/>
<text x="203.79999999999998" y="401.3" font-size="8.6" text-anchor="end">-20</text>
<line x1="223.95" y1="398.2" x2="223.95" y2="402.0" stroke="#000" stroke-width="1.4"/>
<line x1="239.29999999999998" y1="398.2" x2="239.29999999999998" y2="402.0" stroke="#000" stroke-width="1.4"/>
<line x1="254.64999999999998" y1="398.2" x2="254.64999999999998" y2="402.0" stroke="#000" stroke-width="1.4"/>
<line x1="270.0" y1="398.2" x2="270.0" y2="402.0" stroke="#000" stroke-width="1.4"/>
<line x1="285.34999999999997" y1="398.2" x2="285.34999999999997" y2="402.0" stroke="#000" stroke-width="1.4"/>
<line x1="300.7" y1="398.2" x2="300.7" y2="402.0" stroke="#000" stroke-width="1.4"/>
<line x1="316.04999999999995" y1="398.2" x2="316.04999999999995" y2="402.0" stroke="#000" stroke-width="1.4"/>
<polyline fill="none" stroke="#000" stroke-width="1.4" points="216.3,341.2 231.6,359.8 247.0,371.2 262.3,377.8 277.7,382.0 293.0,382.6 308.4,383.8 323.7,383.8"/>
<polyline fill="none" stroke="#000" stroke-width="1.4" points="216.3,386.8 231.6,387.4 247.0,386.8 262.3,386.8 277.7,386.8 293.0,387.4 308.4,387.4 323.7,386.2"/>
<polygon points="216.3,337.1 220.4,341.2 216.3,345.3 212.2,341.2" fill="#000"/>
<polygon points="231.6,355.7 235.7,359.8 231.6,363.9 227.5,359.8" fill="#000"/>
<polygon points="247.0,367.1 251.1,371.2 247.0,375.3 242.9,371.2" fill="#000"/>
<polygon points="262.3,373.7 266.4,377.8 262.3,381.9 258.2,377.8" fill="#000"/>
<polygon points="277.7,377.9 281.8,382.0 277.7,386.1 273.6,382.0" fill="#000"/>
<polygon points="293.0,378.5 297.1,382.6 293.0,386.7 288.9,382.6" fill="#000"/>
<polygon points="308.4,379.7 312.5,383.8 308.4,387.9 304.3,383.8" fill="#000"/>
<polygon points="323.7,379.7 327.8,383.8 323.7,387.9 319.6,383.8" fill="#000"/>
<polygon points="216.3,382.6 220.6,390.0 212.0,390.0" fill="#000"/>
<polygon points="231.6,383.2 235.9,390.6 227.3,390.6" fill="#000"/>
<polygon points="247.0,382.6 251.3,390.0 242.7,390.0" fill="#000"/>
<polygon points="262.3,382.6 266.6,390.0 258.0,390.0" fill="#000"/>
<polygon points="277.7,382.6 282.0,390.0 273.4,390.0" fill="#000"/>
<polygon points="293.0,383.2 297.3,390.6 288.7,390.6" fill="#000"/>
<polygon points="308.4,383.2 312.7,390.6 304.1,390.6" fill="#000"/>
<polygon points="323.7,382.0 328.0,389.4 319.4,389.4" fill="#000"/>
<text x="220.475" y="401.8" font-size="8.8" text-anchor="end" transform="rotate(-90 220.475 401.8)">100:1</text>
<text x="251.17499999999998" y="401.8" font-size="8.8" text-anchor="end" transform="rotate(-90 251.17499999999998 401.8)">25:1</text>
<text x="281.87499999999994" y="401.8" font-size="8.8" text-anchor="end" transform="rotate(-90 281.87499999999994 401.8)">7:1</text>
<text x="312.575" y="401.8" font-size="8.8" text-anchor="end" transform="rotate(-90 312.575 401.8)">2:1</text>
<text x="276" y="319" font-size="12" text-anchor="middle">Cx + Immun</text>
<line x1="96" y1="334.4" x2="115.5" y2="334.4" stroke="#000" stroke-width="1.5"/>
<polygon points="105.8,331 108.7,334.3 105.8,337.5 102.9,334.3" fill="#000"/>
<text x="117.5" y="338.2" font-size="10" text-anchor="start">UV-8101-RE</text>
<line x1="96" y1="347.2" x2="115.5" y2="347.2" stroke="#000" stroke-width="1.5"/>
<polygon points="105.9,343.8 109.3,350.3 102.5,350.3" fill="#000"/>
<text x="117.5" y="350.9" font-size="10" text-anchor="start">TRAMP-C1</text>
<text x="194" y="437.7" font-size="12" text-anchor="middle">E:T ratio</text>
<text x="27.4" y="363" font-size="12.4" text-anchor="middle" transform="rotate(-90 27.4 363)">% Cytolysis</text>
<rect x="379" y="314.8" width="122.19999999999999" height="94.19999999999999" fill="none" stroke="#000" stroke-width="1.5"/>
<line x1="375" y1="314.8" x2="379" y2="314.8" stroke="#000" stroke-width="1.5"/>
<text x="373.1" y="318.54" font-size="11" text-anchor="end">80</text>
<line x1="375" y1="338.35" x2="379" y2="338.35" stroke="#000" stroke-width="1.5"/>
<text x="373.1" y="342.09000000000003" font-size="11" text-anchor="end">60</text>
<line x1="375" y1="361.9" x2="379" y2="361.9" stroke="#000" stroke-width="1.5"/>
<text x="373.1" y="365.64" font-size="11" text-anchor="end">40</text>
<line x1="375" y1="385.45" x2="379" y2="385.45" stroke="#000" stroke-width="1.5"/>
<text x="373.1" y="389.19" font-size="11" text-anchor="end">20</text>
<line x1="375" y1="409" x2="379" y2="409" stroke="#000" stroke-width="1.5"/>
<text x="373.1" y="412.74" font-size="11" text-anchor="end">0</text>
<line x1="400.6" y1="380.6" x2="400.6" y2="391" stroke="#000" stroke-width="1.4"/>
<line x1="398.35" y1="380.6" x2="402.85" y2="380.6" stroke="#000" stroke-width="1.68"/>
<rect x="391.4" y="391" width="18.400000000000034" height="18.19999999999999" fill="#000"/>
<line x1="418.0" y1="407.3" x2="418.0" y2="408.2" stroke="#000" stroke-width="1.4"/>
<line x1="416.5" y1="407.3" x2="419.5" y2="407.3" stroke="#000" stroke-width="1.68"/>
<rect x="415.6" y="408.8" width="4.8" height="0.4" fill="#fff" stroke="#000" stroke-width="1.4"/>
<line x1="461.95000000000005" y1="346.8" x2="461.95000000000005" y2="357.6" stroke="#000" stroke-width="1.4"/>
<line x1="459.70000000000005" y1="346.8" x2="464.20000000000005" y2="346.8" stroke="#000" stroke-width="1.68"/>
<rect x="453.1" y="357.6" width="17.69999999999999" height="51.599999999999966" fill="#000"/>
<rect x="477.6" y="409.20000000000005" width="4.8" height="-3.4083846855992306e-14" fill="#fff" stroke="#000" stroke-width="1.4"/>
<text x="461.5" y="346" font-size="10" text-anchor="middle">*</text>
<rect x="385.5" y="321.5" width="7" height="7" fill="#000"/>
<text x="394.8" y="328.6" font-size="10.4" text-anchor="start">UV-8101-RE</text>
<rect x="386" y="337" width="6.5" height="6.5" fill="#fff" stroke="#000" stroke-width="1"/>
<text x="394.8" y="344" font-size="10.4" text-anchor="start">TRAMP-C1</text>
<text x="411.7" y="427" font-size="12" text-anchor="middle">Sx +</text>
<text x="410.4" y="441.7" font-size="12" text-anchor="middle">Immun</text>
<text x="472.3" y="427" font-size="12" text-anchor="middle">Cx +</text>
<text x="475.4" y="441.7" font-size="12" text-anchor="middle">Immun</text>
<text x="352.1" y="361.5" font-size="12.4" text-anchor="middle" transform="rotate(-90 352.1 361.5)">% Cytolysis</text>
<text x="16" y="468.8" font-size="18" text-anchor="start">D</text>
<text x="140.8" y="478.4" font-size="12" text-anchor="middle" letter-spacing="-0.2">Sx + Immun</text>
<text x="232.4" y="478.1" font-size="12" text-anchor="middle" letter-spacing="-0.2">Cx + Immun</text>
<text x="186" y="574" font-size="12" text-anchor="middle">CD8</text>
<text x="88.3" y="521" font-size="12" text-anchor="middle" transform="rotate(-90 88.3 521)">IFN-<tspan font-weight="normal" font-style="italic">γ</tspan></text>
<rect x="96" y="486.5" width="85.19999999999999" height="70.79999999999995" fill="none" stroke="#555" stroke-width="1"/>
<line x1="127.5" y1="486.5" x2="127.5" y2="557.3" stroke="#555" stroke-width="0.8"/>
<line x1="96" y1="528.7" x2="181.2" y2="528.7" stroke="#555" stroke-width="0.8"/>
<rect x="191.3" y="485.8" width="85.09999999999997" height="71.40000000000003" fill="none" stroke="#555" stroke-width="1"/>
<line x1="222.7" y1="485.8" x2="222.7" y2="557.2" stroke="#555" stroke-width="0.8"/>
<line x1="191.3" y1="527.7" x2="276.4" y2="527.7" stroke="#555" stroke-width="0.8"/>
<g filter="url(#bl)"><polygon points="96.5,557.5 96.5,550 103,545 112,539.5 116,538 115,542 110,549 106,557.5" fill="#000"/><ellipse cx="135.5" cy="544" rx="5" ry="3.2" transform="rotate(-25 135.5 544)" fill="#000"/></g>
<g filter="url(#bl)"><polygon points="191.5,557.5 191.5,547 200,541 210,535 215,533 214,538 207,547 201,557.5" fill="#000"/><ellipse cx="232" cy="543.5" rx="5.5" ry="3.6" transform="rotate(-30 232 543.5)" fill="#000"/></g>
<path d="M124.2 488.7h0M110.7 528.3h0M156.4 495.1h0M158.5 546.7h0M156.2 513.2h0M154.4 515.2h0M133.0 519.2h0M109.4 548.2h0M170.0 497.3h0M145.5 503.8h0M113.5 536.6h0M144.9 493.0h0M142.0 550.7h0M150.9 543.6h0M120.9 491.7h0M151.7 530.4h0M134.4 549.8h0M108.5 552.0h0M170.7 554.3h0M109.8 520.9h0M128.8 540.8h0M176.8 501.9h0M165.2 503.4h0M119.5 515.2h0M117.3 543.3h0" stroke="#000" stroke-opacity="0.2" stroke-width="0.9" stroke-linecap="square" fill="none"/>
<path d="M133.2 537.7h0M176.0 554.5h0M129.4 538.4h0M112.2 524.0h0M150.1 495.0h0M115.8 542.6h0M133.5 547.0h0M133.9 554.0h0M141.4 531.5h0M148.7 516.1h0M142.8 536.8h0M154.3 513.9h0M160.2 523.1h0M154.9 492.0h0M155.9 490.3h0M138.8 553.1h0M130.5 510.8h0M160.2 518.8h0M178.5 538.3h0M158.0 521.0h0M131.6 550.9h0M206.7 489.3h0M224.1 533.6h0M249.0 552.7h0M240.9 511.9h0" stroke="#000" stroke-opacity="0.2" stroke-width="0.9" stroke-linecap="square" fill="none"/>
<path d="M194.3 551.5h0M248.0 536.6h0M255.7 544.3h0M259.3 554.2h0M240.9 527.7h0M238.3 507.1h0M268.7 504.5h0M262.8 523.4h0M206.6 548.5h0M265.0 528.6h0M221.5 494.3h0M198.3 548.7h0M218.5 513.2h0M268.3 492.1h0M236.8 522.1h0M236.7 532.5h0M222.9 517.1h0M201.6 552.5h0M201.9 544.5h0M226.3 540.8h0M248.4 540.3h0M205.9 495.1h0M242.3 511.6h0M237.7 554.4h0M260.4 554.1h0" stroke="#000" stroke-opacity="0.2" stroke-width="0.9" stroke-linecap="square" fill="none"/>
<path d="M208.8 519.1h0M200.1 494.4h0M257.0 526.6h0M241.3 554.1h0M263.2 509.0h0M267.3 517.5h0M197.0 532.6h0M248.2 492.5h0M214.9 497.5h0M211.0 545.7h0M242.3 508.8h0M266.3 496.2h0M270.0 505.5h0M216.5 493.6h0M262.9 545.5h0M235.8 516.9h0M269.4 513.7h0M240.4 512.5h0" stroke="#000" stroke-opacity="0.2" stroke-width="0.9" stroke-linecap="square" fill="none"/>
<path d="M112.2 539.0h0M101.4 547.8h0M101.3 549.8h0M115.7 541.2h0M117.3 537.1h0M111.2 537.7h0M117.9 537.2h0M104.3 543.6h0M103.2 550.4h0M99.4 555.5h0M104.6 538.4h0M102.9 544.3h0M105.4 545.6h0M106.5 551.2h0M111.1 555.5h0M102.5 543.8h0M114.7 531.6h0M118.3 542.8h0M118.4 544.4h0M114.0 542.5h0M114.6 554.2h0M102.1 546.0h0M114.6 537.7h0M118.2 539.3h0M101.3 549.4h0" stroke="#000" stroke-opacity="0.2" stroke-width="1.0" stroke-linecap="square" fill="none"/>
<path d="M99.7 555.0h0M104.1 547.0h0M101.5 539.9h0M115.1 548.4h0M106.4 543.2h0M112.2 535.4h0M115.7 533.8h0M124.3 536.7h0M115.6 554.2h0M118.0 541.8h0M121.3 543.3h0M114.0 546.7h0M115.4 532.8h0M118.7 548.0h0M112.2 536.6h0M104.9 548.6h0M109.4 531.8h0M121.4 550.7h0M114.6 551.4h0M111.5 540.9h0M103.2 541.4h0M104.4 544.1h0M126.1 537.9h0M111.5 546.0h0M104.9 545.8h0" stroke="#000" stroke-opacity="0.2" stroke-width="1.0" stroke-linecap="square" fill="none"/>
<path d="M116.0 537.2h0M114.8 549.4h0M99.0 549.5h0M130.6 537.4h0M105.0 555.1h0M98.3 544.7h0M112.0 541.8h0M115.9 544.0h0M103.2 547.0h0M109.2 541.4h0M118.0 541.2h0M103.9 549.6h0M120.2 537.7h0M115.0 536.0h0M98.6 550.3h0M98.3 539.9h0M102.7 539.4h0M120.9 546.3h0M106.2 548.3h0M100.7 547.6h0M102.9 551.1h0M109.2 547.2h0M108.0 545.6h0M118.7 541.3h0M108.4 544.8h0" stroke="#000" stroke-opacity="0.2" stroke-width="1.0" stroke-linecap="square" fill="none"/>
<path d="M110.6 546.2h0M113.7 549.4h0M114.0 536.8h0M111.0 555.2h0M97.7 543.7h0M104.2 546.3h0M107.6 552.8h0M108.0 553.4h0M113.3 536.0h0M108.3 538.9h0M125.8 543.7h0M109.3 552.7h0M120.9 544.8h0M102.7 550.9h0M114.8 523.4h0M102.3 547.8h0M107.3 541.8h0M104.3 544.5h0M112.9 554.5h0M114.4 538.1h0M108.9 545.0h0M110.9 548.2h0M103.2 546.5h0M116.3 547.8h0M114.5 535.0h0" stroke="#000" stroke-opacity="0.2" stroke-width="1.0" stroke-linecap="square" fill="none"/>
<path d="M117.8 538.4h0M111.7 536.9h0M110.5 538.5h0M98.0 541.1h0M102.3 535.3h0M116.9 546.6h0M138.9 526.4h0M113.4 534.4h0M115.5 541.2h0M112.2 535.2h0M106.5 552.0h0M103.5 540.8h0M112.4 548.3h0M112.5 544.2h0M118.8 541.0h0M102.6 551.9h0M118.8 529.1h0M102.2 544.3h0M110.9 535.3h0M103.9 532.3h0M124.8 542.2h0M100.4 539.0h0M97.9 547.2h0M114.0 527.8h0M101.2 546.8h0" stroke="#000" stroke-opacity="0.2" stroke-width="1.0" stroke-linecap="square" fill="none"/>
<path d="M113.2 528.7h0M119.0 550.5h0M117.4 543.3h0M112.4 539.0h0M121.3 531.2h0M122.9 523.7h0M120.2 528.2h0M103.4 544.6h0M110.8 538.5h0M106.9 555.4h0M112.1 539.9h0M121.2 544.5h0M101.7 550.8h0M108.5 541.6h0M111.8 548.5h0M114.5 538.7h0M116.8 537.7h0M107.7 551.3h0M113.4 552.5h0M111.6 549.2h0M122.0 536.4h0M102.8 549.7h0M100.9 545.9h0M105.8 552.1h0M121.5 538.5h0" stroke="#000" stroke-opacity="0.2" stroke-width="1.0" stroke-linecap="square" fill="none"/>
<path d="M115.0 543.2h0M113.8 530.1h0M107.4 544.6h0M103.2 538.6h0M124.6 532.9h0M108.2 551.2h0M99.2 543.2h0M116.6 544.7h0M110.8 542.9h0M105.7 555.0h0M128.4 537.6h0M112.0 549.9h0M98.1 543.0h0M106.9 550.4h0M116.8 550.1h0M110.0 540.6h0M109.9 551.3h0M125.9 528.3h0M111.4 543.2h0M107.4 548.6h0M109.1 548.5h0M106.9 547.5h0M110.0 552.0h0M153.3 545.3h0M140.7 541.5h0" stroke="#000" stroke-opacity="0.2" stroke-width="1.0" stroke-linecap="square" fill="none"/>
<path d="M144.0 545.1h0M155.3 541.4h0M149.6 536.4h0M124.3 545.5h0M134.8 545.4h0M139.7 538.8h0M129.3 547.1h0M139.5 551.4h0M148.4 539.9h0M149.6 547.3h0M140.8 547.4h0M131.8 544.1h0M143.0 548.9h0M139.4 548.8h0M139.0 544.3h0M154.1 534.7h0M138.0 555.0h0M149.9 530.2h0M152.0 535.6h0M131.2 548.9h0M152.5 529.6h0M139.2 541.0h0M147.1 536.8h0M144.2 545.1h0M149.8 531.7h0" stroke="#000" stroke-opacity="0.2" stroke-width="1.0" stroke-linecap="square" fill="none"/>
<path d="M143.8 540.9h0M130.0 544.6h0M121.5 552.5h0M132.0 544.4h0M151.8 546.2h0M138.4 540.6h0M129.2 550.6h0M133.9 547.2h0M133.4 551.5h0M138.4 548.3h0M130.3 550.3h0M136.1 539.3h0M144.4 542.6h0M145.8 547.2h0M145.9 538.1h0M136.2 539.1h0M133.0 550.3h0M143.4 530.8h0M134.3 549.0h0M133.3 547.0h0M134.9 543.1h0M138.1 549.6h0M134.3 542.9h0M142.5 544.6h0M137.1 543.5h0" stroke="#000" stroke-opacity="0.2" stroke-width="1.0" stroke-linecap="square" fill="none"/>
<path d="M132.7 548.1h0M148.8 534.5h0M135.9 542.8h0M142.7 541.5h0M135.8 538.6h0M155.7 539.1h0M142.7 546.6h0M136.3 531.4h0M142.3 541.7h0M153.6 543.0h0M145.2 537.9h0M141.3 534.1h0M131.0 545.4h0M130.6 550.1h0M133.8 543.4h0M143.8 545.3h0M139.7 536.9h0M146.4 536.1h0M133.4 550.7h0M161.4 535.3h0M121.6 545.5h0M146.0 541.5h0M146.7 534.8h0M139.7 548.6h0M135.0 554.8h0" stroke="#000" stroke-opacity="0.2" stroke-width="1.0" stroke-linecap="square" fill="none"/>
<path d="M142.1 548.5h0M129.5 545.4h0M142.1 539.9h0M139.1 549.8h0M148.5 547.8h0M160.4 537.7h0M154.2 539.0h0M141.0 541.4h0M138.9 544.5h0M133.6 551.8h0M156.0 534.2h0M136.2 543.3h0M129.7 545.9h0M137.2 542.0h0M128.8 544.2h0M149.6 541.5h0M135.7 541.8h0M143.0 552.2h0M150.5 532.6h0M138.3 541.1h0M129.1 546.7h0M150.4 534.6h0M148.0 529.6h0M154.8 541.1h0M144.9 533.0h0" stroke="#000" stroke-opacity="0.2" stroke-width="1.0" stroke-linecap="square" fill="none"/>
<path d="M137.1 538.8h0M135.4 543.9h0M140.5 541.6h0M146.3 539.3h0M129.4 544.2h0M147.3 539.8h0M136.9 549.3h0M138.3 538.6h0M144.9 543.4h0M143.4 541.2h0M152.2 545.9h0M140.9 532.8h0M139.8 555.4h0M150.0 533.3h0M153.8 536.7h0M149.4 541.1h0M134.7 541.1h0M139.7 546.6h0M140.0 544.2h0M139.6 542.5h0M129.1 547.8h0M146.1 543.3h0M147.4 533.3h0M142.4 539.5h0M141.1 540.4h0" stroke="#000" stroke-opacity="0.2" stroke-width="1.0" stroke-linecap="square" fill="none"/>
<path d="M138.3 539.7h0M137.0 536.8h0M151.5 532.1h0M134.7 543.5h0M141.2 542.4h0M149.8 532.7h0M139.3 540.3h0M138.1 547.6h0M111.0 535.9h0M117.2 539.7h0M121.4 538.9h0M114.9 536.0h0M115.6 534.7h0M129.5 528.3h0M114.8 549.0h0M106.7 544.9h0M105.6 547.6h0M111.0 544.7h0M112.5 527.2h0M110.7 555.1h0M126.2 537.3h0M119.7 543.1h0M117.6 541.1h0M135.5 546.9h0M118.4 529.7h0" stroke="#000" stroke-opacity="0.2" stroke-width="1.0" stroke-linecap="square" fill="none"/>
<path d="M112.2 545.1h0M117.6 544.1h0M127.5 532.8h0M117.8 540.8h0M98.7 555.6h0M115.0 533.0h0M110.5 545.3h0M110.0 534.5h0M114.6 548.2h0M121.2 531.2h0M111.6 541.0h0M109.0 532.4h0M125.8 542.6h0M131.1 539.3h0M104.2 551.9h0M124.9 534.9h0M102.1 543.1h0M106.4 547.7h0M111.6 527.2h0M114.9 539.0h0M111.4 529.9h0M100.7 538.7h0M121.9 547.1h0M123.4 533.1h0M96.9 541.2h0" stroke="#000" stroke-opacity="0.2" stroke-width="1.0" stroke-linecap="square" fill="none"/>
<path d="M125.2 539.6h0M113.6 545.7h0M109.8 532.3h0M112.3 541.7h0M108.2 543.3h0M127.7 550.0h0M108.2 548.3h0M114.0 550.3h0M123.8 536.4h0M110.1 544.3h0M113.8 539.1h0M123.6 547.6h0M121.5 545.5h0M115.1 542.2h0M123.3 544.7h0M112.8 539.1h0M108.4 533.9h0M100.7 549.3h0M108.0 542.7h0M122.1 540.0h0M112.4 528.9h0M100.4 554.0h0M110.7 542.4h0M116.2 548.3h0M132.3 540.2h0" stroke="#000" stroke-opacity="0.2" stroke-width="1.0" stroke-linecap="square" fill="none"/>
<path d="M135.2 531.7h0M124.8 524.6h0M113.6 541.0h0M101.7 534.9h0M122.5 545.1h0M109.6 539.1h0M119.5 540.1h0M126.5 536.7h0M102.2 549.6h0M119.2 544.1h0M119.7 536.9h0M124.6 532.7h0M112.5 552.7h0M113.4 540.7h0M106.5 551.1h0M143.5 532.8h0M136.1 532.2h0M105.9 542.5h0M124.3 535.0h0M106.9 543.0h0M117.8 543.4h0M108.1 546.8h0M124.7 543.8h0M114.9 552.9h0M127.8 540.2h0" stroke="#000" stroke-opacity="0.2" stroke-width="1.0" stroke-linecap="square" fill="none"/>
<path d="M104.7 552.2h0M121.1 540.6h0M118.6 528.8h0M101.0 546.1h0M121.3 537.5h0M125.2 547.7h0M116.0 550.2h0M117.1 546.4h0M119.3 541.9h0M114.7 539.5h0M132.5 524.6h0M122.9 543.1h0M117.4 545.7h0M107.3 542.3h0M132.9 545.0h0M118.7 540.7h0M117.1 551.8h0M103.5 543.8h0M115.0 541.5h0M122.6 550.2h0M119.9 531.5h0M100.2 540.9h0M115.0 535.7h0M115.2 540.9h0M125.4 535.2h0" stroke="#000" stroke-opacity="0.2" stroke-width="1.0" stroke-linecap="square" fill="none"/>
<path d="M99.1 538.2h0M112.7 545.9h0M107.1 545.4h0M111.3 549.1h0M99.8 537.4h0M101.9 548.7h0M118.3 537.2h0M112.3 543.9h0M113.5 535.9h0M110.3 536.8h0M115.1 538.8h0M104.7 547.2h0M100.0 544.2h0M125.1 543.8h0M108.6 536.6h0M100.5 542.6h0M105.4 537.1h0M119.7 531.9h0M102.8 529.8h0M115.9 536.1h0M118.7 522.2h0M102.6 551.1h0M123.6 543.6h0M110.2 536.6h0M111.1 535.8h0" stroke="#000" stroke-opacity="0.2" stroke-width="1.0" stroke-linecap="square" fill="none"/>
<path d="M119.9 536.9h0M111.0 549.5h0M108.7 540.2h0M110.0 544.4h0M108.1 542.5h0M112.2 549.9h0M117.3 549.5h0M98.0 541.8h0M105.6 537.2h0M120.6 538.2h0M116.9 534.4h0M102.3 545.4h0M110.3 549.6h0M117.2 541.3h0M117.2 549.0h0M116.8 542.5h0M119.1 547.3h0M108.3 524.2h0M99.4 551.3h0M116.1 539.2h0M124.6 533.1h0M110.5 529.8h0M136.9 504.6h0M144.5 492.6h0M142.7 535.1h0" stroke="#000" stroke-opacity="0.2" stroke-width="1.0" stroke-linecap="square" fill="none"/>
<path d="M135.6 507.8h0M135.8 508.1h0M139.4 497.8h0M140.8 502.9h0M134.4 513.2h0M130.1 503.5h0M145.2 502.5h0M134.6 509.1h0M143.4 522.1h0M137.9 520.3h0M143.6 510.5h0M144.6 497.0h0M142.1 504.2h0M137.2 514.6h0M136.1 515.3h0M133.9 512.5h0M142.2 518.9h0M139.4 522.1h0M139.6 497.5h0M144.8 504.7h0M138.7 515.1h0M142.6 508.7h0M135.5 516.9h0M138.8 506.1h0M133.7 503.2h0" stroke="#000" stroke-opacity="0.2" stroke-width="1.0" stroke-linecap="square" fill="none"/>
<path d="M146.4 514.4h0M146.2 505.9h0M138.7 511.1h0M133.1 517.4h0M137.3 516.1h0M142.0 518.2h0M133.2 502.8h0M138.6 505.0h0M145.6 501.5h0M137.1 510.8h0M141.9 509.3h0M142.9 524.1h0M139.9 504.2h0M139.0 501.3h0M132.2 511.2h0M149.1 509.8h0M134.2 506.8h0M132.8 497.3h0M140.2 511.8h0M142.6 518.7h0M140.0 513.3h0M142.7 516.6h0M142.8 505.8h0M147.0 502.4h0M131.3 507.5h0" stroke="#000" stroke-opacity="0.2" stroke-width="1.0" stroke-linecap="square" fill="none"/>
<path d="M140.0 511.9h0M146.6 524.4h0M138.1 511.1h0M137.2 527.1h0M143.5 509.6h0M149.8 505.7h0M140.7 513.2h0M137.4 511.6h0M136.3 525.9h0M140.0 500.6h0M141.2 520.8h0M137.4 504.2h0M145.5 506.3h0M141.1 508.9h0M146.4 506.7h0M135.1 517.5h0M142.5 517.5h0M142.4 527.4h0M135.6 501.4h0M137.5 505.8h0M135.2 508.5h0M146.8 520.0h0M138.7 517.7h0M141.3 516.4h0M138.8 508.9h0" stroke="#000" stroke-opacity="0.2" stroke-width="1.0" stroke-linecap="square" fill="none"/>
<path d="M143.0 515.1h0M145.0 516.5h0M140.2 498.2h0M139.0 525.9h0M145.9 502.3h0M131.7 516.6h0M137.5 509.0h0M133.5 505.7h0M139.6 511.3h0M137.1 500.7h0M142.9 523.3h0M140.1 511.2h0M138.8 508.3h0M139.8 517.5h0M139.1 503.9h0M136.7 509.3h0M139.9 501.1h0M136.6 517.3h0M135.6 515.5h0M143.8 524.5h0M142.9 506.1h0M140.1 502.6h0M145.0 517.6h0M138.7 503.9h0M144.0 506.6h0" stroke="#000" stroke-opacity="0.2" stroke-width="1.0" stroke-linecap="square" fill="none"/>
<path d="M135.1 509.7h0M141.1 522.4h0M140.3 510.0h0M143.5 518.5h0M136.3 515.0h0M150.6 521.5h0M140.6 516.1h0M130.3 509.4h0M134.4 504.4h0M140.9 501.7h0M134.8 519.8h0M135.0 515.9h0M103.7 499.0h0M97.3 518.8h0M103.8 508.4h0M106.4 518.7h0M116.1 503.6h0M115.4 520.1h0M104.3 506.7h0M100.8 504.9h0M116.6 498.8h0M106.5 524.4h0M100.4 535.2h0M104.4 494.5h0M120.9 502.5h0" stroke="#000" stroke-opacity="0.2" stroke-width="1.0" stroke-linecap="square" fill="none"/>
<path d="M116.2 499.4h0M111.5 508.2h0M111.0 522.3h0M97.6 498.0h0M102.5 511.9h0M117.7 512.3h0M105.9 507.2h0M116.6 514.2h0M109.6 516.0h0M113.3 503.2h0M116.6 495.2h0M97.6 500.9h0M103.7 508.2h0M105.9 511.0h0M116.9 498.7h0M99.7 518.6h0M98.9 509.5h0M216.2 542.7h0M216.5 539.3h0M218.3 535.6h0M212.3 533.1h0M197.8 552.3h0M200.1 547.3h0M199.4 545.0h0M210.8 543.4h0" stroke="#000" stroke-opacity="0.2" stroke-width="1.0" stroke-linecap="square" fill="none"/>
<path d="M211.0 531.4h0M217.3 532.3h0M207.9 533.3h0M213.8 539.8h0M215.6 545.9h0M206.1 540.8h0M219.8 537.6h0M200.2 544.0h0M203.3 543.2h0M194.6 533.3h0M206.0 541.2h0M207.3 543.8h0M215.8 543.2h0M212.5 554.3h0M218.6 539.9h0M221.1 533.0h0M196.0 555.3h0M235.0 541.8h0M209.7 546.6h0M208.4 539.6h0M208.8 546.6h0M194.3 545.5h0M199.9 546.0h0M216.8 543.7h0M208.1 548.4h0" stroke="#000" stroke-opacity="0.2" stroke-width="1.0" stroke-linecap="square" fill="none"/>
<path d="M218.6 553.5h0M204.7 548.0h0M195.4 542.6h0M211.6 536.3h0M194.3 554.1h0M217.1 539.4h0M214.5 529.4h0M201.9 541.6h0M213.0 547.3h0M199.5 551.5h0M203.2 546.1h0M193.2 547.1h0M208.7 539.6h0M212.5 541.5h0M199.4 553.7h0M204.0 555.7h0M212.5 542.9h0M213.7 533.1h0M204.3 536.4h0M212.8 538.8h0M209.4 530.8h0M194.1 544.9h0M202.3 543.5h0M192.5 555.6h0M203.6 549.8h0" stroke="#000" stroke-opacity="0.2" stroke-width="1.0" stroke-linecap="square" fill="none"/>
<path d="M222.2 539.1h0M213.6 539.8h0M202.3 540.9h0M198.6 540.6h0M211.6 549.0h0M196.1 547.9h0M206.1 533.6h0M206.8 549.6h0M206.6 548.8h0M200.9 542.9h0M209.4 540.8h0M212.4 536.0h0M206.5 548.6h0M211.8 547.2h0M201.4 543.2h0M201.6 536.2h0M218.8 541.8h0M213.9 543.8h0M195.2 552.9h0M204.8 543.3h0M204.1 545.0h0M211.9 532.2h0M199.9 538.0h0M196.7 539.5h0M196.0 553.8h0" stroke="#000" stroke-opacity="0.2" stroke-width="1.0" stroke-linecap="square" fill="none"/>
<path d="M205.2 545.7h0M201.3 537.4h0M200.0 551.4h0M200.3 547.4h0M215.6 543.8h0M213.8 543.9h0M203.1 541.2h0M217.5 534.6h0M198.0 553.8h0M206.3 550.0h0M217.3 525.4h0M193.1 551.6h0M204.4 544.9h0M209.5 546.8h0M210.8 546.2h0M212.8 540.6h0M204.9 541.9h0M208.1 551.6h0M219.7 528.2h0M231.6 534.7h0M205.7 549.8h0M202.5 539.4h0M201.7 544.6h0M208.0 539.5h0M222.6 540.8h0" stroke="#000" stroke-opacity="0.2" stroke-width="1.0" stroke-linecap="square" fill="none"/>
<path d="M199.1 545.7h0M206.8 540.9h0M200.5 546.2h0M201.3 544.2h0M203.9 546.8h0M209.4 546.5h0M215.8 538.8h0M202.8 547.3h0M207.3 550.8h0M198.4 538.3h0M219.4 544.4h0M216.3 529.6h0M197.7 540.7h0M203.8 542.4h0M207.1 530.0h0M208.5 547.6h0M219.1 545.5h0M213.1 542.1h0M213.8 548.9h0M212.9 530.2h0M203.5 543.1h0M230.6 526.0h0M201.1 541.0h0M206.8 550.9h0M205.2 547.1h0" stroke="#000" stroke-opacity="0.2" stroke-width="1.0" stroke-linecap="square" fill="none"/>
<path d="M192.5 547.8h0M197.2 552.2h0M226.3 539.3h0M195.0 554.5h0M201.9 541.5h0M204.2 546.1h0M211.1 548.8h0M220.9 542.5h0M216.2 547.9h0M201.6 551.9h0M212.3 531.5h0M218.7 555.2h0M214.5 541.9h0M203.6 549.1h0M199.8 545.3h0M203.4 542.7h0M211.1 548.1h0M208.5 545.0h0M226.1 533.4h0M201.6 546.7h0M192.3 552.6h0M203.3 539.2h0M208.0 542.8h0M204.8 552.3h0M201.2 546.6h0" stroke="#000" stroke-opacity="0.2" stroke-width="1.0" stroke-linecap="square" fill="none"/>
<path d="M215.9 541.0h0M208.7 522.8h0M208.6 537.7h0M216.5 539.1h0M196.0 555.5h0M227.2 527.6h0M214.7 541.8h0M212.8 540.6h0M197.8 553.3h0M220.7 533.6h0M207.2 550.1h0M211.8 544.9h0M211.3 536.1h0M213.9 545.2h0M203.9 550.0h0M203.1 541.4h0M226.1 526.1h0M243.7 538.3h0M244.9 541.6h0M229.1 542.4h0M247.4 529.3h0M234.6 535.9h0M234.0 550.3h0M238.8 542.7h0M244.7 538.7h0" stroke="#000" stroke-opacity="0.2" stroke-width="1.0" stroke-linecap="square" fill="none"/>
<path d="M243.4 531.2h0M250.7 526.9h0M241.5 534.8h0M234.5 534.6h0M239.0 545.4h0M226.6 545.1h0M230.1 539.5h0M225.4 539.9h0M240.6 542.9h0M241.0 543.0h0M234.0 538.7h0M239.9 523.1h0M242.8 526.9h0M236.2 539.1h0M246.1 538.4h0M239.4 540.6h0M221.6 546.6h0M239.5 543.0h0M242.1 529.7h0M242.9 541.0h0M231.4 543.7h0M228.5 554.0h0M240.6 540.1h0M230.3 539.7h0M250.6 542.0h0" stroke="#000" stroke-opacity="0.2" stroke-width="1.0" stroke-linecap="square" fill="none"/>
<path d="M241.0 538.0h0M218.7 549.3h0M239.6 546.0h0M249.8 539.6h0M239.1 536.7h0M248.4 542.9h0M235.0 539.7h0M227.5 550.3h0M244.1 536.4h0M229.8 544.2h0M233.8 539.3h0M236.1 541.8h0M208.4 544.2h0M226.9 541.1h0M253.4 533.3h0M243.4 545.9h0M241.6 527.7h0M234.7 537.2h0M225.1 542.2h0M241.3 536.9h0M244.0 541.1h0M232.2 543.7h0M243.3 535.2h0M257.7 541.2h0M247.5 547.3h0" stroke="#000" stroke-opacity="0.2" stroke-width="1.0" stroke-linecap="square" fill="none"/>
<path d="M244.1 542.3h0M229.0 541.7h0M237.2 530.4h0M234.9 550.7h0M231.9 553.4h0M242.5 531.2h0M227.2 545.7h0M230.6 547.8h0M233.5 551.2h0M249.5 537.7h0M249.0 550.0h0M235.6 534.3h0M236.3 538.2h0M236.5 539.9h0M235.2 547.0h0M239.0 543.1h0M237.3 526.4h0M231.9 538.0h0M235.2 549.4h0M242.2 538.5h0M214.4 546.3h0M226.0 539.6h0M250.9 532.4h0M234.7 540.9h0M230.8 547.2h0" stroke="#000" stroke-opacity="0.2" stroke-width="1.0" stroke-linecap="square" fill="none"/>
<path d="M241.5 533.3h0M236.9 551.6h0M233.2 543.3h0M241.9 537.7h0M231.8 537.0h0M231.7 545.4h0M237.9 536.2h0M239.0 552.9h0M233.4 541.5h0M243.3 538.6h0M229.1 549.9h0M237.9 544.3h0M233.9 549.2h0M238.0 536.8h0M248.5 548.4h0M243.8 542.8h0M235.4 535.5h0M236.4 538.8h0M255.8 528.5h0M242.8 536.0h0M251.3 532.3h0M234.4 540.8h0M239.3 535.4h0M232.4 546.5h0M226.0 545.3h0" stroke="#000" stroke-opacity="0.2" stroke-width="1.0" stroke-linecap="square" fill="none"/>
<path d="M225.4 553.0h0M228.0 547.8h0M238.0 536.6h0M231.9 535.7h0M232.2 544.5h0M239.8 539.5h0M242.8 538.2h0M237.8 531.1h0M231.4 547.3h0M243.3 536.3h0M232.2 545.9h0M234.2 535.2h0M235.6 537.7h0M230.9 549.0h0M236.3 547.8h0M233.0 526.8h0M228.2 552.0h0M221.8 540.9h0M229.6 543.3h0M238.0 535.6h0M232.6 548.1h0M234.8 541.1h0M235.2 544.9h0M239.2 532.1h0M220.5 550.1h0" stroke="#000" stroke-opacity="0.2" stroke-width="1.0" stroke-linecap="square" fill="none"/>
<path d="M231.1 540.4h0M237.6 534.3h0M215.3 555.1h0M235.1 544.8h0M237.8 531.7h0M234.3 547.2h0M228.1 545.1h0M240.0 534.1h0M218.6 550.0h0M250.9 539.2h0M235.5 538.3h0M232.2 542.5h0M229.1 554.8h0M232.5 542.7h0M245.1 529.5h0M239.6 537.2h0M243.9 530.5h0M238.9 539.1h0M217.5 550.2h0M227.8 526.1h0M236.1 546.3h0M221.1 546.5h0M241.6 534.7h0M241.0 528.0h0M230.5 551.2h0" stroke="#000" stroke-opacity="0.2" stroke-width="1.0" stroke-linecap="square" fill="none"/>
<path d="M230.6 539.8h0M232.7 541.8h0M230.1 542.1h0M235.7 546.6h0M221.7 542.4h0M213.4 533.5h0M217.1 527.3h0M199.6 546.3h0M199.7 534.0h0M227.3 540.8h0M210.2 544.5h0M207.0 553.8h0M223.2 527.0h0M209.7 537.9h0M214.4 532.8h0M194.0 549.6h0M198.9 542.7h0M201.1 553.6h0M198.3 547.8h0M205.8 545.5h0M218.1 537.7h0M196.3 527.5h0M204.8 540.5h0M192.7 550.3h0M206.4 527.1h0" stroke="#000" stroke-opacity="0.2" stroke-width="1.0" stroke-linecap="square" fill="none"/>
<path d="M203.0 543.6h0M201.9 544.0h0M204.5 538.3h0M216.7 535.7h0M209.5 534.9h0M199.1 554.3h0M205.2 541.6h0M199.1 554.3h0M218.1 552.1h0M210.3 550.0h0M195.3 546.9h0M210.9 533.9h0M205.6 542.3h0M219.8 532.0h0M233.9 523.6h0M220.5 543.4h0M193.4 549.0h0M219.8 544.1h0M237.6 535.5h0M194.3 549.9h0M225.5 533.3h0M198.2 552.1h0M214.8 545.3h0M211.5 540.7h0M196.7 545.2h0" stroke="#000" stroke-opacity="0.2" stroke-width="1.0" stroke-linecap="square" fill="none"/>
<path d="M207.2 546.2h0M200.1 537.0h0M203.6 537.0h0M212.6 536.7h0M208.3 545.3h0M222.3 535.2h0M195.9 550.5h0M215.2 521.6h0M211.0 537.7h0M211.4 540.5h0M208.6 553.6h0M212.2 539.7h0M218.8 538.0h0M202.2 540.3h0M198.9 547.1h0M215.1 542.5h0M197.1 545.2h0M198.4 543.1h0M208.1 545.5h0M215.0 546.3h0M209.6 537.6h0M199.0 544.1h0M201.5 545.1h0M197.9 555.0h0M205.1 528.6h0" stroke="#000" stroke-opacity="0.2" stroke-width="1.0" stroke-linecap="square" fill="none"/>
<path d="M217.9 536.3h0M218.7 540.9h0M209.6 533.6h0M205.1 541.9h0M192.9 547.0h0M239.0 534.4h0M204.3 550.0h0M216.5 518.4h0M207.6 544.4h0M208.6 548.1h0M202.6 536.0h0M217.7 538.5h0M201.1 538.1h0M200.7 548.1h0M219.7 542.2h0M206.7 535.5h0M214.8 526.3h0M208.0 549.7h0M199.3 531.3h0M224.0 541.0h0M216.9 531.8h0M199.7 529.6h0M225.9 530.7h0M207.7 535.1h0M194.5 542.4h0" stroke="#000" stroke-opacity="0.2" stroke-width="1.0" stroke-linecap="square" fill="none"/>
<path d="M210.4 546.5h0M224.3 525.1h0M194.2 549.5h0M221.3 548.8h0M199.0 536.8h0M192.5 555.0h0M211.9 539.4h0M210.6 542.7h0M201.3 546.1h0M197.4 542.3h0M222.5 538.3h0M209.1 547.9h0M193.3 539.1h0M228.2 530.0h0M195.6 527.3h0M210.3 532.4h0M205.6 536.3h0M208.9 548.5h0M229.9 532.5h0M210.6 541.4h0M200.4 546.4h0M210.2 552.8h0M213.5 538.3h0M206.2 547.6h0M211.0 534.6h0" stroke="#000" stroke-opacity="0.2" stroke-width="1.0" stroke-linecap="square" fill="none"/>
<path d="M211.4 543.7h0M217.0 545.1h0M209.9 548.4h0M215.5 538.6h0M218.3 534.1h0M204.4 525.8h0M211.8 543.7h0M219.1 538.1h0M216.0 536.9h0M210.9 529.7h0M217.4 543.2h0M197.8 544.4h0M205.7 547.9h0M203.5 538.1h0M216.4 534.0h0M194.9 531.4h0M216.3 538.5h0M208.9 535.7h0M211.9 535.7h0M208.2 538.8h0M212.5 529.3h0M212.5 545.8h0M192.0 547.5h0M203.0 534.0h0M196.8 543.3h0" stroke="#000" stroke-opacity="0.2" stroke-width="1.0" stroke-linecap="square" fill="none"/>
<path d="M209.1 550.6h0M196.8 533.0h0M195.5 554.6h0M208.8 537.7h0M221.0 533.9h0M202.0 551.2h0M213.3 549.5h0M192.1 547.5h0M207.0 538.2h0M215.2 541.8h0M201.3 537.9h0M198.9 547.5h0M203.2 545.9h0M215.1 551.1h0M215.9 526.5h0M208.6 541.6h0M215.6 540.5h0M231.9 538.4h0M217.0 555.2h0M213.4 524.6h0M199.8 545.2h0M207.7 544.1h0M234.2 508.0h0M237.7 503.7h0M237.4 488.5h0" stroke="#000" stroke-opacity="0.2" stroke-width="1.0" stroke-linecap="square" fill="none"/>
<path d="M229.5 504.8h0M238.2 514.4h0M241.1 511.2h0M232.5 506.2h0M235.0 497.6h0M239.9 517.5h0M231.6 503.0h0M229.3 510.5h0M233.9 516.7h0M233.0 515.9h0M233.1 504.1h0M228.7 495.5h0M234.2 521.5h0M231.7 509.0h0M233.6 507.7h0M242.0 520.1h0M236.3 502.9h0M234.0 516.3h0M231.7 515.0h0M237.4 516.0h0M238.6 513.9h0M241.2 501.8h0M228.1 517.8h0M240.0 503.4h0M229.9 500.9h0" stroke="#000" stroke-opacity="0.2" stroke-width="1.0" stroke-linecap="square" fill="none"/>
<path d="M230.1 519.0h0M230.3 508.6h0M239.3 507.2h0M227.8 503.9h0M239.1 515.3h0M244.8 496.0h0M229.9 512.6h0M234.2 511.3h0M239.5 510.6h0M239.8 511.1h0M234.7 515.2h0M236.6 516.6h0M239.3 499.2h0M241.8 524.4h0M228.2 524.7h0M233.2 500.5h0M242.3 516.3h0M231.0 497.0h0M237.3 504.0h0M229.9 507.5h0M237.9 515.2h0M231.5 494.6h0M219.6 501.8h0M235.9 518.2h0M239.2 502.4h0" stroke="#000" stroke-opacity="0.2" stroke-width="1.0" stroke-linecap="square" fill="none"/>
<path d="M233.1 515.6h0M239.7 498.9h0M229.1 526.3h0M232.2 491.2h0M236.0 520.9h0M230.7 500.0h0M238.3 491.4h0M243.0 509.2h0M247.6 525.4h0M236.5 511.8h0M237.4 525.1h0M240.8 516.9h0M247.9 519.4h0M225.7 492.5h0M237.6 502.0h0M233.4 514.5h0M244.1 525.1h0M237.9 511.0h0M239.6 502.9h0M227.4 494.1h0M237.9 521.9h0M235.8 524.1h0M225.7 498.3h0M230.2 515.7h0M241.2 501.4h0" stroke="#000" stroke-opacity="0.2" stroke-width="1.0" stroke-linecap="square" fill="none"/>
<path d="M228.1 506.8h0M239.2 511.7h0M241.6 504.0h0M241.8 521.5h0M247.8 506.7h0M240.7 504.0h0M236.8 522.1h0M231.5 508.2h0M236.4 512.9h0M228.7 513.9h0M237.9 504.5h0M229.6 508.9h0M228.1 498.1h0M230.9 502.3h0M244.9 521.9h0M236.0 504.1h0M228.9 501.5h0M231.2 519.7h0M234.7 513.9h0M241.1 509.3h0M241.4 517.0h0M233.4 508.4h0M236.3 523.1h0M232.6 516.4h0M239.2 520.2h0" stroke="#000" stroke-opacity="0.2" stroke-width="1.0" stroke-linecap="square" fill="none"/>
<path d="M236.5 500.4h0M241.3 506.7h0M233.0 500.9h0M231.8 504.2h0M234.3 505.6h0M227.2 497.7h0M238.9 521.1h0M233.7 501.7h0M240.4 519.9h0M233.4 510.4h0M233.5 513.3h0M232.6 500.0h0M237.3 504.3h0M238.3 499.3h0M240.7 508.8h0M232.3 495.7h0M230.8 515.2h0M235.4 502.5h0M228.7 511.5h0M238.6 519.1h0M240.2 501.8h0M243.4 518.0h0M238.2 505.7h0M227.9 518.7h0M234.3 516.8h0" stroke="#000" stroke-opacity="0.2" stroke-width="1.0" stroke-linecap="square" fill="none"/>
<path d="M231.7 514.2h0M236.5 511.6h0M233.7 509.2h0M230.9 519.7h0M238.9 514.1h0M231.2 509.0h0M229.1 509.5h0M235.1 498.4h0M232.5 516.2h0M248.1 508.1h0M234.4 528.0h0M231.6 515.6h0M236.1 509.2h0M229.3 524.1h0M236.9 494.0h0M238.8 510.8h0M230.3 501.5h0M233.7 512.3h0M228.2 510.4h0M237.6 520.8h0M237.9 521.7h0M241.7 519.1h0M238.0 517.7h0M235.3 522.9h0M233.9 506.8h0" stroke="#000" stroke-opacity="0.2" stroke-width="1.0" stroke-linecap="square" fill="none"/>
<path d="M238.6 510.7h0M243.8 520.9h0M226.4 516.8h0M232.1 509.4h0M227.3 496.5h0M234.5 519.5h0M238.8 507.5h0M228.0 500.8h0M237.6 507.9h0M236.2 502.1h0M239.3 502.1h0M229.5 503.8h0M228.8 507.5h0M231.4 516.6h0M238.4 509.9h0M245.5 489.9h0M237.3 514.3h0M233.1 497.2h0M236.4 516.8h0M234.8 514.2h0M240.3 517.4h0M236.1 513.8h0M227.2 491.3h0M234.0 518.4h0M234.4 521.0h0" stroke="#000" stroke-opacity="0.2" stroke-width="1.0" stroke-linecap="square" fill="none"/>
<path d="M226.2 496.9h0M232.6 511.8h0M239.8 509.9h0M239.7 519.9h0M238.0 511.4h0M234.0 514.2h0M235.4 494.1h0M236.8 517.0h0M237.5 511.3h0M232.2 509.1h0M234.1 503.0h0M233.5 498.9h0M240.7 515.3h0M231.3 501.5h0M243.4 506.5h0M230.0 510.1h0M232.2 502.4h0M236.4 501.1h0M236.7 502.2h0M239.8 504.3h0M234.9 505.6h0M235.6 505.1h0M240.6 508.3h0M234.2 506.5h0M227.3 503.1h0" stroke="#000" stroke-opacity="0.2" stroke-width="1.0" stroke-linecap="square" fill="none"/>
<path d="M233.6 504.8h0M235.9 503.2h0M237.3 511.0h0M235.5 500.4h0M232.5 503.4h0M237.1 509.7h0M235.7 509.6h0M236.0 506.0h0M235.7 510.7h0M232.5 502.3h0M231.8 502.8h0M239.2 505.0h0M236.8 518.0h0M240.4 508.5h0M237.5 512.5h0M237.4 509.8h0M195.0 514.3h0M211.4 508.8h0M209.8 504.6h0M199.0 516.6h0M200.8 507.0h0M207.4 495.1h0M192.3 522.3h0M206.2 514.1h0M212.2 513.6h0" stroke="#000" stroke-opacity="0.2" stroke-width="1.0" stroke-linecap="square" fill="none"/>
<path d="M209.3 520.7h0M211.4 515.5h0M197.5 504.1h0M193.6 528.5h0M202.8 521.9h0M205.7 514.3h0M204.1 512.7h0M206.7 511.7h0M210.7 517.7h0M225.1 516.4h0M202.6 524.4h0M203.7 499.5h0M199.7 512.5h0M202.5 496.5h0M203.3 501.3h0M217.1 518.4h0M223.8 522.6h0M192.9 514.7h0M194.7 521.1h0M198.1 514.8h0" stroke="#000" stroke-opacity="0.2" stroke-width="1.0" stroke-linecap="square" fill="none"/>
<path d="M120.7 538.2h0M120.3 534.1h0M118.8 533.6h0M123.3 536.2h0M120.7 533.8h0M123.7 538.0h0M119.2 533.6h0M118.4 536.0h0M151.0 535.0h0M152.9 531.9h0M147.5 538.0h0M151.3 531.9h0M149.2 530.7h0M153.1 532.0h0M151.4 533.0h0M146.4 537.9h0M147.7 533.9h0M151.2 533.4h0M151.4 531.3h0M146.3 537.2h0M150.1 537.3h0M151.5 529.1h0M149.5 533.6h0M148.1 533.4h0M152.6 531.7h0" stroke="#000" stroke-opacity="0.2" stroke-width="1.1" stroke-linecap="square" fill="none"/>
<path d="M142.6 536.0h0M153.3 532.7h0M213.3 536.4h0M218.2 533.3h0M213.7 533.5h0M218.1 532.7h0M211.7 533.7h0M214.9 531.8h0M215.7 533.1h0M214.9 534.3h0M216.2 532.8h0M247.1 534.3h0M245.3 532.1h0M242.4 532.7h0M243.5 532.6h0M242.7 531.6h0M239.0 536.7h0M241.3 534.7h0M243.6 531.0h0M243.6 531.2h0M241.5 536.0h0M241.8 533.8h0M243.4 531.6h0M245.8 530.9h0M243.3 535.7h0" stroke="#000" stroke-opacity="0.2" stroke-width="1.1" stroke-linecap="square" fill="none"/>
<path d="M241.3 531.5h0M245.0 532.7h0M243.7 530.3h0M241.1 537.5h0M242.6 530.5h0M243.4 531.5h0M242.2 532.9h0M239.4 534.8h0" stroke="#000" stroke-opacity="0.2" stroke-width="1.1" stroke-linecap="square" fill="none"/>
<path d="M108.5 545.8h0M96.8 547.8h0M122.4 546.0h0M123.8 531.4h0M114.9 537.8h0M123.4 540.0h0M108.4 548.5h0M115.5 539.5h0M104.1 554.1h0M113.7 540.8h0M111.7 536.5h0M99.0 540.9h0M101.5 545.5h0M115.5 544.7h0M103.5 551.3h0M106.6 554.5h0M115.4 541.5h0M101.3 547.6h0M103.6 553.7h0M109.2 546.8h0M107.0 547.4h0M117.0 548.9h0M112.5 536.5h0M104.4 537.9h0M107.0 542.6h0" stroke="#000" stroke-opacity="0.4" stroke-width="1.0" stroke-linecap="square" fill="none"/>
<path d="M105.4 544.8h0M105.1 539.0h0M103.6 551.5h0M108.2 543.7h0M113.2 539.6h0M108.4 544.5h0M105.8 538.7h0M127.1 531.0h0M119.7 539.8h0M127.2 544.8h0M117.0 539.9h0M113.3 538.7h0M118.3 539.1h0M107.9 544.8h0M112.1 548.6h0M105.0 540.8h0M115.5 535.1h0M106.7 543.0h0M113.1 533.9h0M97.6 552.3h0M124.9 540.7h0M103.9 545.4h0M106.7 545.6h0M108.1 541.5h0M109.6 541.4h0" stroke="#000" stroke-opacity="0.4" stroke-width="1.0" stroke-linecap="square" fill="none"/>
<path d="M101.6 548.7h0M104.9 536.0h0M110.6 545.4h0M98.9 553.2h0M117.6 543.9h0M111.5 543.3h0M115.2 545.7h0M109.2 540.3h0M102.6 548.8h0M107.6 547.7h0M106.1 552.7h0M111.9 542.7h0M102.5 546.2h0M117.8 539.9h0M114.5 537.0h0M112.8 549.2h0M109.2 547.8h0M115.3 539.3h0M116.6 538.8h0M109.2 542.2h0M115.9 545.0h0M109.8 541.3h0M99.8 552.4h0M112.6 544.3h0M118.1 545.6h0" stroke="#000" stroke-opacity="0.4" stroke-width="1.0" stroke-linecap="square" fill="none"/>
<path d="M115.6 538.8h0M131.4 524.2h0M109.3 555.4h0M100.2 539.0h0M97.1 550.3h0M115.6 542.9h0M105.1 536.5h0M100.4 552.2h0M118.4 554.4h0M113.5 538.8h0M105.4 531.8h0M115.2 538.7h0M115.2 530.8h0M114.2 544.5h0M109.0 545.1h0M109.8 544.2h0M121.5 545.1h0M118.5 539.6h0M113.5 540.6h0M124.1 539.8h0M106.2 538.3h0M105.3 548.2h0M101.6 541.4h0M103.0 555.0h0M101.9 540.1h0" stroke="#000" stroke-opacity="0.4" stroke-width="1.0" stroke-linecap="square" fill="none"/>
<path d="M108.4 545.0h0M117.2 533.2h0M116.2 534.7h0M107.6 543.4h0M121.7 545.3h0M106.4 543.7h0M128.2 524.0h0M127.7 540.6h0M119.8 541.4h0M106.6 529.5h0M97.4 550.1h0M105.3 548.8h0M111.8 539.7h0M108.6 551.5h0M115.1 545.9h0M106.0 544.1h0M105.0 545.8h0M112.7 539.1h0M111.6 533.0h0M104.5 537.7h0M105.3 545.0h0M115.1 539.1h0M107.9 542.1h0M111.8 545.3h0M110.3 552.8h0" stroke="#000" stroke-opacity="0.4" stroke-width="1.0" stroke-linecap="square" fill="none"/>
<path d="M106.4 549.2h0M106.5 535.0h0M108.0 549.5h0M118.4 534.2h0M119.1 538.0h0M118.5 545.0h0M115.3 547.3h0M101.2 548.1h0M100.3 540.2h0M105.9 541.2h0M126.7 530.6h0M123.0 549.4h0M116.5 537.0h0M127.2 539.1h0M105.0 548.1h0M109.5 541.6h0M112.7 544.4h0M101.5 544.0h0M120.1 552.7h0M111.8 536.9h0M120.4 543.1h0M110.4 545.6h0M124.4 540.5h0M112.2 546.7h0M104.6 544.6h0" stroke="#000" stroke-opacity="0.4" stroke-width="1.0" stroke-linecap="square" fill="none"/>
<path d="M104.8 539.4h0M120.7 532.1h0M107.9 549.0h0M110.8 535.8h0M118.7 540.1h0M101.4 545.6h0M107.6 548.8h0M107.5 545.1h0M109.2 553.3h0M103.6 541.5h0M107.0 541.6h0M101.6 555.3h0M110.0 534.7h0M111.6 542.6h0M109.5 545.1h0M106.3 552.4h0M147.4 546.6h0M148.6 533.5h0M148.6 542.2h0M138.6 545.3h0M122.4 544.4h0M143.7 539.3h0M138.6 543.3h0M130.5 537.0h0M139.6 539.5h0" stroke="#000" stroke-opacity="0.4" stroke-width="1.0" stroke-linecap="square" fill="none"/>
<path d="M135.6 550.8h0M148.9 542.1h0M141.4 540.2h0M134.3 540.4h0M136.0 543.4h0M145.8 543.5h0M132.3 542.7h0M133.1 545.2h0M158.5 535.1h0M144.9 533.4h0M140.7 538.0h0M128.0 544.6h0M155.5 541.5h0M131.0 546.2h0M147.8 541.5h0M156.9 531.7h0M154.9 537.3h0M146.2 539.5h0M150.5 540.9h0M148.4 546.5h0M147.5 531.4h0M138.9 536.4h0M144.9 533.7h0M139.5 544.4h0M136.0 547.9h0" stroke="#000" stroke-opacity="0.4" stroke-width="1.0" stroke-linecap="square" fill="none"/>
<path d="M146.8 544.7h0M138.5 543.7h0M142.6 544.0h0M137.6 538.8h0M134.6 543.5h0M131.2 547.5h0M142.8 544.0h0M135.6 542.1h0M137.2 538.5h0M142.0 544.2h0M121.0 548.7h0M154.5 528.0h0M145.2 540.9h0M148.8 534.0h0M148.2 534.4h0M143.7 537.9h0M131.3 546.2h0M142.9 537.7h0M144.2 541.2h0M148.4 537.3h0M139.9 545.7h0M145.2 536.2h0M140.6 539.1h0M134.7 538.5h0M149.9 537.1h0" stroke="#000" stroke-opacity="0.4" stroke-width="1.0" stroke-linecap="square" fill="none"/>
<path d="M136.1 542.1h0M146.6 546.9h0M137.7 538.5h0M147.2 531.8h0M139.7 553.8h0M147.9 537.9h0M134.4 535.5h0M133.3 546.4h0M135.4 538.8h0M132.6 541.4h0M134.5 533.3h0M149.3 542.4h0M144.4 538.3h0M144.2 535.2h0M142.5 547.3h0M134.4 543.1h0M127.9 539.3h0M143.1 544.3h0M139.2 548.4h0M128.7 543.5h0M131.3 546.7h0M135.0 553.6h0M155.7 531.0h0M142.0 545.0h0M134.8 552.2h0" stroke="#000" stroke-opacity="0.4" stroke-width="1.0" stroke-linecap="square" fill="none"/>
<path d="M142.6 539.4h0M138.3 538.0h0M141.0 541.1h0M132.0 546.2h0M140.0 542.1h0M137.2 533.4h0M152.8 532.2h0M151.1 536.5h0M149.7 530.4h0M137.4 537.6h0M146.4 541.8h0M155.0 538.6h0M145.2 537.5h0M134.9 548.4h0M143.7 537.5h0M138.7 539.8h0M148.0 531.4h0M135.0 551.8h0M117.0 546.8h0M134.9 546.4h0M143.2 539.2h0M144.1 532.1h0M130.6 544.3h0M152.8 544.1h0M146.3 543.5h0" stroke="#000" stroke-opacity="0.4" stroke-width="1.0" stroke-linecap="square" fill="none"/>
<path d="M155.5 525.7h0M143.7 542.7h0M142.7 540.3h0M146.4 538.9h0M138.3 540.7h0M144.8 550.8h0M133.2 541.7h0M130.4 545.6h0M131.8 547.0h0M148.1 535.1h0M147.3 511.4h0M136.4 511.7h0M145.0 509.9h0M136.2 513.9h0M147.4 509.0h0M144.7 496.0h0M143.9 510.4h0M144.2 511.4h0M136.9 499.6h0M147.1 518.8h0M134.3 510.4h0M134.9 509.4h0M140.7 503.0h0M133.1 520.0h0M144.5 504.6h0" stroke="#000" stroke-opacity="0.4" stroke-width="1.0" stroke-linecap="square" fill="none"/>
<path d="M138.8 498.1h0M138.0 511.4h0M135.0 509.7h0M131.4 494.0h0M135.3 503.7h0M141.1 501.7h0M144.4 505.2h0M144.5 510.2h0M140.9 508.0h0M141.5 501.0h0M137.7 521.7h0M140.0 524.6h0M144.2 510.9h0M148.5 514.3h0M134.0 503.5h0M140.5 509.5h0M136.6 504.3h0M136.7 504.1h0M141.2 506.7h0M142.8 514.1h0M134.5 521.3h0M140.1 499.4h0M133.4 508.2h0M134.4 515.3h0M141.0 516.9h0" stroke="#000" stroke-opacity="0.4" stroke-width="1.0" stroke-linecap="square" fill="none"/>
<path d="M137.1 509.9h0M138.7 516.1h0M138.5 509.9h0M131.9 507.5h0M138.8 508.4h0M145.1 515.3h0M141.5 512.5h0M142.9 499.9h0M139.9 518.8h0M139.3 509.2h0M137.5 511.0h0M133.1 504.6h0M138.7 513.6h0M139.3 510.1h0M137.4 510.6h0M141.8 509.6h0M140.2 501.5h0M144.3 520.2h0M132.7 525.0h0M141.4 508.5h0M137.0 506.1h0M128.4 517.3h0M137.4 498.3h0M146.8 512.8h0M137.9 508.7h0" stroke="#000" stroke-opacity="0.4" stroke-width="1.0" stroke-linecap="square" fill="none"/>
<path d="M127.2 520.3h0M133.0 499.6h0M139.6 511.4h0M137.5 499.6h0M142.4 500.7h0M147.7 524.0h0M142.3 512.9h0M134.7 509.9h0M136.8 524.3h0M130.1 500.8h0M143.8 497.8h0M134.7 512.2h0M138.4 505.6h0M138.9 505.7h0M146.6 511.0h0M141.6 502.3h0M138.0 510.2h0M136.0 502.6h0M142.0 518.1h0M141.1 508.5h0M147.4 518.1h0M137.7 517.9h0M131.3 508.0h0M138.9 506.3h0M141.4 511.1h0" stroke="#000" stroke-opacity="0.4" stroke-width="1.0" stroke-linecap="square" fill="none"/>
<path d="M135.2 514.5h0M139.4 496.9h0M142.1 517.9h0M141.9 516.5h0M141.0 510.1h0M134.6 511.3h0M144.4 521.1h0M133.1 504.0h0M140.2 521.4h0M145.7 508.3h0M134.2 511.6h0M139.6 512.2h0M136.7 504.3h0M141.4 507.0h0M135.2 517.0h0M145.6 494.0h0M129.2 521.4h0M139.3 516.4h0M141.2 507.4h0M136.6 514.6h0M133.3 513.0h0M140.7 510.9h0M137.8 524.6h0M141.7 508.4h0M135.6 507.1h0" stroke="#000" stroke-opacity="0.4" stroke-width="1.0" stroke-linecap="square" fill="none"/>
<path d="M142.9 525.0h0M137.9 500.7h0M142.2 516.2h0M144.2 506.1h0M139.1 521.7h0M141.2 504.8h0M146.0 501.8h0M138.5 509.2h0M143.2 520.3h0M137.0 515.9h0M105.3 515.2h0M117.5 505.6h0M122.2 504.2h0M108.6 510.0h0M112.0 511.0h0M111.2 510.2h0M104.3 504.2h0M210.9 534.1h0M199.6 549.8h0M202.9 552.7h0M204.3 544.9h0M215.7 533.7h0M206.3 539.1h0M205.0 544.3h0M202.4 551.1h0" stroke="#000" stroke-opacity="0.4" stroke-width="1.0" stroke-linecap="square" fill="none"/>
<path d="M201.3 543.3h0M209.0 544.9h0M227.8 529.0h0M205.3 536.3h0M195.8 547.4h0M200.9 546.3h0M218.6 553.4h0M202.7 546.5h0M205.1 549.1h0M195.5 548.4h0M192.2 546.8h0M205.8 538.6h0M192.4 540.9h0M213.6 530.2h0M206.2 550.7h0M204.3 553.6h0M215.1 552.1h0M193.4 548.7h0M224.0 543.3h0M208.0 544.3h0M202.2 543.7h0M210.6 546.5h0M204.9 553.0h0M198.6 538.8h0M217.6 543.7h0" stroke="#000" stroke-opacity="0.4" stroke-width="1.0" stroke-linecap="square" fill="none"/>
<path d="M210.7 541.1h0M222.1 534.5h0M194.5 554.5h0M199.4 544.7h0M197.2 544.9h0M215.6 537.2h0M208.7 535.4h0M211.9 544.2h0M201.4 539.8h0M197.9 545.4h0M209.1 537.5h0M219.2 528.4h0M221.7 532.6h0M203.6 532.9h0M217.2 546.8h0M195.6 550.3h0M208.6 548.6h0M210.9 542.9h0M212.5 547.4h0M207.0 521.7h0M210.6 551.4h0M207.1 554.8h0M200.0 538.2h0M205.7 554.2h0M205.7 544.8h0" stroke="#000" stroke-opacity="0.4" stroke-width="1.0" stroke-linecap="square" fill="none"/>
<path d="M216.9 539.8h0M203.2 539.4h0M205.0 547.6h0M214.1 543.4h0M208.0 540.4h0M211.0 540.5h0M212.1 543.9h0M201.6 543.3h0M221.2 533.0h0M205.7 544.0h0M208.4 536.6h0M207.2 549.8h0M218.2 535.2h0M201.8 545.1h0M202.4 540.1h0M200.6 540.7h0M206.4 542.9h0M226.9 531.4h0M206.6 553.0h0M222.0 539.7h0M226.7 539.5h0M226.5 547.3h0M201.4 545.4h0M203.6 537.1h0M214.3 551.7h0" stroke="#000" stroke-opacity="0.4" stroke-width="1.0" stroke-linecap="square" fill="none"/>
<path d="M215.1 544.9h0M203.6 541.6h0M192.1 542.7h0M204.6 552.2h0M199.3 544.5h0M217.4 540.0h0M199.0 553.1h0M209.6 547.4h0M216.7 541.6h0M206.3 538.4h0M208.9 549.1h0M205.1 546.3h0M211.1 545.7h0M203.8 548.8h0M210.1 555.2h0M208.7 538.4h0M192.7 549.4h0M194.5 548.4h0M210.1 547.4h0M195.6 545.0h0M209.2 542.2h0M222.5 537.2h0M198.9 536.5h0M209.9 537.8h0M216.8 531.7h0" stroke="#000" stroke-opacity="0.4" stroke-width="1.0" stroke-linecap="square" fill="none"/>
<path d="M204.5 544.1h0M214.4 534.4h0M223.0 526.3h0M207.0 538.3h0M210.9 545.2h0M205.1 548.3h0M200.5 544.4h0M213.4 532.3h0M204.7 544.9h0M209.9 541.4h0M204.8 544.4h0M204.0 552.1h0M202.6 552.0h0M217.3 550.7h0M207.5 540.2h0M202.3 530.0h0M209.8 545.0h0M199.9 549.6h0M202.9 554.6h0M224.6 529.5h0M196.9 550.1h0M221.3 542.1h0M203.1 552.9h0M221.9 536.7h0M195.8 549.3h0" stroke="#000" stroke-opacity="0.4" stroke-width="1.0" stroke-linecap="square" fill="none"/>
<path d="M199.5 544.6h0M201.1 527.8h0M206.4 546.9h0M200.3 536.5h0M211.6 544.2h0M208.9 542.1h0M207.7 555.1h0M198.1 547.0h0M205.0 548.8h0M199.5 550.6h0M213.8 538.0h0M210.7 551.2h0M199.1 548.5h0M201.8 546.5h0M198.0 551.0h0M201.6 548.4h0M204.7 550.1h0M216.4 537.8h0M200.3 545.1h0M200.2 544.6h0M217.2 538.9h0M207.9 551.5h0M206.1 545.6h0M204.2 542.1h0M221.6 526.6h0" stroke="#000" stroke-opacity="0.4" stroke-width="1.0" stroke-linecap="square" fill="none"/>
<path d="M203.9 545.7h0M198.3 547.3h0M205.8 538.4h0M210.9 545.1h0M195.2 548.3h0M222.3 543.3h0M215.1 538.0h0M199.1 541.9h0M212.5 533.2h0M201.5 549.1h0M192.0 552.3h0M210.9 551.7h0M215.7 546.0h0M204.5 543.1h0M213.6 533.9h0M210.0 544.9h0M206.0 551.0h0M214.7 538.3h0M208.5 530.1h0M196.2 539.0h0M216.6 538.5h0M208.3 534.3h0M197.9 541.3h0M213.1 544.9h0M208.7 539.9h0" stroke="#000" stroke-opacity="0.4" stroke-width="1.0" stroke-linecap="square" fill="none"/>
<path d="M203.3 537.8h0M202.5 540.0h0M238.8 530.8h0M240.5 539.3h0M230.8 544.0h0M233.0 542.5h0M243.8 545.6h0M245.6 532.8h0M240.8 527.6h0M226.6 553.1h0M224.0 555.3h0M237.8 543.0h0M235.5 540.9h0M238.0 539.3h0M240.5 527.0h0M260.1 529.3h0M244.0 541.3h0M221.7 547.7h0M238.7 525.8h0M237.8 542.8h0M233.0 540.2h0M237.4 524.3h0M240.9 524.7h0M251.9 528.4h0M239.9 544.3h0" stroke="#000" stroke-opacity="0.4" stroke-width="1.0" stroke-linecap="square" fill="none"/>
<path d="M232.6 536.7h0M226.6 551.3h0M220.0 553.0h0M236.5 543.4h0M239.8 535.0h0M241.8 536.9h0M244.6 532.8h0M235.2 540.8h0M231.4 540.5h0M227.7 537.0h0M254.2 535.8h0M235.6 545.9h0M249.3 539.0h0M240.2 533.3h0M247.4 541.1h0M228.8 546.5h0M241.1 533.7h0M233.2 544.0h0M234.2 547.9h0M232.4 537.5h0M237.1 542.6h0M251.6 529.4h0M222.4 554.8h0M252.9 526.2h0M241.7 534.8h0" stroke="#000" stroke-opacity="0.4" stroke-width="1.0" stroke-linecap="square" fill="none"/>
<path d="M231.3 534.5h0M231.6 544.6h0M240.2 530.0h0M235.3 545.5h0M240.5 548.4h0M230.3 536.1h0M251.0 528.1h0M234.9 528.8h0M218.0 548.7h0M238.8 543.2h0M239.2 545.1h0M239.3 545.7h0M244.0 534.1h0M225.5 540.0h0M243.7 536.0h0M240.2 551.8h0M226.8 535.6h0M234.5 548.3h0M241.1 535.3h0M228.2 532.8h0M249.3 541.8h0M229.4 540.3h0M251.6 534.3h0M223.6 555.4h0M227.4 554.2h0" stroke="#000" stroke-opacity="0.4" stroke-width="1.0" stroke-linecap="square" fill="none"/>
<path d="M249.4 542.5h0M232.0 550.1h0M229.1 545.1h0M235.6 536.3h0M253.5 530.5h0M231.5 535.1h0M232.6 549.5h0M239.0 532.9h0M255.0 534.4h0M232.4 553.1h0M239.4 538.4h0M243.4 540.0h0M242.7 531.2h0M227.5 536.3h0M235.6 539.1h0M235.6 542.7h0M248.3 529.1h0M233.7 541.5h0M230.4 549.3h0M232.8 531.0h0M234.2 543.6h0M240.9 537.3h0M247.0 535.0h0M242.4 537.8h0M249.6 539.4h0" stroke="#000" stroke-opacity="0.4" stroke-width="1.0" stroke-linecap="square" fill="none"/>
<path d="M227.1 547.5h0M238.0 534.2h0M246.1 543.9h0M243.8 535.6h0M230.5 538.2h0M233.5 534.1h0M239.3 531.4h0M238.6 546.7h0M236.2 541.4h0M216.2 548.6h0M234.3 544.4h0M217.6 546.1h0M214.2 548.8h0M243.8 537.3h0M234.0 547.0h0M233.9 550.4h0M234.0 550.8h0M241.0 523.5h0M234.7 538.4h0M224.1 546.0h0M237.4 541.1h0M248.3 548.0h0M235.8 552.7h0M232.6 531.0h0M229.3 533.9h0" stroke="#000" stroke-opacity="0.4" stroke-width="1.0" stroke-linecap="square" fill="none"/>
<path d="M232.1 546.9h0M245.9 528.3h0M236.5 533.9h0M233.6 538.4h0M253.3 527.7h0M230.9 527.6h0M232.9 543.8h0M255.4 528.8h0M225.6 548.2h0M234.3 529.5h0M236.2 516.6h0M234.6 524.2h0M234.2 510.7h0M231.2 490.3h0M223.4 513.0h0M230.9 516.4h0M231.2 506.8h0M237.1 505.6h0M241.5 518.1h0M236.8 504.8h0M233.4 512.2h0M231.5 517.4h0M234.0 504.7h0M239.2 515.5h0M234.4 502.3h0" stroke="#000" stroke-opacity="0.4" stroke-width="1.0" stroke-linecap="square" fill="none"/>
<path d="M237.9 508.9h0M236.2 522.6h0M234.0 528.0h0M231.1 511.5h0M238.6 524.5h0M238.7 509.2h0M232.4 514.8h0M233.6 512.2h0M228.6 505.3h0M234.8 526.9h0M235.6 516.3h0M224.7 517.3h0M234.6 517.7h0M240.0 510.5h0M245.8 509.5h0M227.4 514.2h0M233.9 519.9h0M236.3 503.8h0M239.2 517.9h0M235.2 512.1h0M236.9 512.5h0M238.8 513.3h0M245.3 502.5h0M235.5 513.0h0M237.7 501.0h0" stroke="#000" stroke-opacity="0.4" stroke-width="1.0" stroke-linecap="square" fill="none"/>
<path d="M234.0 500.1h0M224.7 510.3h0M233.3 500.2h0M234.7 517.3h0M234.5 504.1h0M239.0 505.4h0M236.2 500.2h0M234.7 499.3h0M237.4 506.2h0M242.1 514.5h0M239.0 499.3h0M233.2 511.6h0M235.9 498.8h0M241.7 508.4h0M228.3 520.5h0M229.0 505.2h0M238.8 511.5h0M234.4 520.0h0M235.3 512.2h0M229.0 525.2h0M236.3 515.2h0M232.6 510.5h0M235.8 513.5h0M241.3 516.2h0M236.4 503.7h0" stroke="#000" stroke-opacity="0.4" stroke-width="1.0" stroke-linecap="square" fill="none"/>
<path d="M237.4 515.9h0M232.4 518.3h0M237.4 516.9h0M236.5 503.8h0M233.7 515.2h0M242.6 507.1h0M234.5 513.9h0M242.2 512.7h0M232.5 502.8h0M235.8 519.9h0M241.6 506.8h0M232.3 521.6h0M235.2 504.3h0M235.8 506.2h0M236.9 503.5h0M238.7 519.3h0M238.6 496.5h0M238.2 511.6h0M235.4 505.4h0M243.2 516.6h0M236.4 491.4h0M234.1 491.4h0M231.7 504.8h0M235.4 513.2h0M231.2 508.0h0" stroke="#000" stroke-opacity="0.4" stroke-width="1.0" stroke-linecap="square" fill="none"/>
<path d="M238.9 516.5h0M235.6 511.5h0M239.4 501.5h0M222.5 510.7h0M242.3 508.7h0M238.7 509.0h0M231.5 506.6h0M236.7 511.7h0M233.4 507.1h0M241.5 507.4h0M242.2 520.7h0M232.2 505.5h0M237.6 517.3h0M243.2 516.5h0M244.6 507.5h0M238.6 511.6h0M245.9 508.4h0M240.0 518.9h0M234.3 517.0h0M237.2 516.7h0M228.6 504.6h0M236.2 510.4h0M236.8 523.3h0M240.0 519.9h0M229.5 516.3h0" stroke="#000" stroke-opacity="0.4" stroke-width="1.0" stroke-linecap="square" fill="none"/>
<path d="M233.9 513.8h0M246.8 516.9h0M232.9 508.7h0M234.1 521.4h0M234.9 509.1h0M229.9 517.2h0M237.2 507.7h0M233.1 497.9h0M230.6 507.4h0M234.7 513.5h0M241.5 515.8h0M235.3 510.5h0M227.8 520.3h0M237.2 515.4h0M233.9 518.6h0M243.5 493.4h0M235.8 502.4h0M235.5 511.6h0M234.3 503.2h0M237.8 523.7h0M240.4 511.5h0M241.3 510.9h0M244.0 513.4h0M234.1 499.9h0M233.5 516.8h0" stroke="#000" stroke-opacity="0.4" stroke-width="1.0" stroke-linecap="square" fill="none"/>
<path d="M240.3 504.7h0M241.5 517.6h0M230.8 520.8h0M238.1 515.2h0M225.2 504.5h0M227.8 505.9h0M233.7 498.6h0M226.4 506.8h0M242.4 510.9h0M237.1 524.7h0M229.8 513.1h0M235.0 497.6h0M238.0 514.1h0M233.8 499.4h0M230.0 521.9h0M238.8 515.6h0M232.8 508.1h0M235.7 507.2h0M233.5 501.7h0M231.7 509.7h0M238.0 511.0h0M235.4 512.6h0M240.2 506.3h0M238.2 527.9h0M245.6 508.0h0" stroke="#000" stroke-opacity="0.4" stroke-width="1.0" stroke-linecap="square" fill="none"/>
<path d="M231.6 501.4h0M231.8 519.6h0M231.1 519.9h0M242.2 504.8h0M232.5 505.7h0M233.6 510.2h0M227.9 507.8h0M242.3 504.8h0M234.7 506.7h0M227.6 502.8h0M226.0 500.0h0M225.5 499.2h0M237.3 518.4h0M232.8 507.9h0M230.8 506.5h0M237.2 515.1h0M228.6 507.6h0M247.3 525.0h0M235.3 516.4h0M238.1 510.7h0M237.3 514.8h0M236.2 506.2h0M238.7 496.5h0M243.4 528.3h0M233.7 495.7h0" stroke="#000" stroke-opacity="0.4" stroke-width="1.0" stroke-linecap="square" fill="none"/>
<path d="M228.7 511.2h0M235.5 518.7h0M239.3 508.1h0M237.6 507.5h0M238.4 504.3h0M238.2 507.5h0M244.6 514.6h0M239.4 506.9h0M233.3 519.1h0M232.1 514.1h0M238.1 509.7h0M241.3 504.4h0M234.0 530.1h0M233.2 501.4h0M234.3 508.2h0M233.9 511.9h0M240.8 527.7h0M238.9 515.8h0M241.3 517.5h0M240.4 500.6h0M234.5 515.9h0M230.2 505.0h0M233.3 525.3h0M241.0 507.2h0M239.1 503.5h0" stroke="#000" stroke-opacity="0.4" stroke-width="1.0" stroke-linecap="square" fill="none"/>
<path d="M236.4 504.0h0M233.3 501.1h0M230.4 505.2h0M233.4 497.5h0M242.9 514.4h0M233.1 524.9h0M243.3 502.1h0M238.1 509.7h0M224.7 508.1h0M227.7 518.9h0M234.1 509.8h0M234.5 505.7h0M233.3 503.2h0M234.9 511.7h0M233.9 505.0h0M238.6 508.1h0M235.0 509.7h0M239.2 511.8h0M233.9 506.0h0M231.1 512.0h0M236.2 503.9h0M233.5 506.4h0M237.7 507.3h0M233.2 504.8h0M237.5 506.8h0" stroke="#000" stroke-opacity="0.4" stroke-width="1.0" stroke-linecap="square" fill="none"/>
<path d="M239.0 514.5h0M233.1 512.6h0M236.1 502.5h0M224.7 505.2h0M240.3 506.3h0M236.9 507.9h0M239.1 510.9h0M238.9 502.4h0M232.7 513.4h0M237.4 503.9h0M242.9 504.7h0M238.0 510.4h0M234.6 509.1h0M236.0 505.4h0M237.8 501.6h0M238.7 498.9h0M239.0 507.3h0M234.1 501.5h0M235.8 506.9h0M241.6 503.6h0M238.8 507.6h0M238.2 508.9h0M228.8 506.8h0M236.1 508.8h0M233.3 510.1h0" stroke="#000" stroke-opacity="0.4" stroke-width="1.0" stroke-linecap="square" fill="none"/>
<path d="M237.8 508.4h0M230.8 502.8h0M238.4 503.6h0M234.8 504.6h0M238.4 517.0h0M235.5 514.2h0M241.0 507.7h0M241.7 506.6h0M239.9 505.9h0M235.4 510.4h0M236.8 506.9h0M233.8 510.5h0M236.7 502.1h0M236.7 506.2h0M235.4 500.7h0M234.5 508.9h0M238.4 499.8h0M206.2 495.8h0M195.1 504.4h0M204.6 511.3h0M204.4 511.9h0M206.9 505.7h0M204.0 510.4h0M212.4 515.5h0M202.5 503.0h0" stroke="#000" stroke-opacity="0.4" stroke-width="1.0" stroke-linecap="square" fill="none"/>
<path d="M208.4 506.9h0" stroke="#000" stroke-opacity="0.4" stroke-width="1.0" stroke-linecap="square" fill="none"/>
<path d="M104.7 547.3h0M114.2 539.9h0M119.2 534.3h0M112.5 546.9h0M114.9 538.9h0M112.1 543.1h0M119.0 539.1h0M110.5 539.2h0M110.1 543.5h0M112.8 539.5h0M109.5 546.2h0M111.4 540.5h0M116.0 544.5h0M121.3 535.9h0M110.6 540.7h0M115.8 537.1h0M103.2 546.0h0M118.0 537.5h0M114.6 535.4h0M110.5 543.0h0M109.0 547.7h0M114.1 548.8h0M110.5 543.4h0M115.5 541.5h0M108.0 548.6h0" stroke="#000" stroke-opacity="0.4" stroke-width="1.1" stroke-linecap="square" fill="none"/>
<path d="M110.5 553.1h0M121.4 533.7h0M110.2 540.7h0M111.0 543.6h0M120.3 534.3h0M121.7 537.7h0M122.2 534.9h0M105.1 551.6h0M114.2 542.2h0M123.2 536.1h0M113.7 538.5h0M114.4 537.9h0M106.0 556.2h0M116.0 540.4h0M116.2 536.3h0M119.4 540.0h0M104.4 554.3h0M108.7 544.5h0M117.0 535.7h0M109.0 539.0h0M120.4 534.4h0M117.1 544.6h0M114.1 536.8h0M114.4 540.9h0M102.0 551.0h0" stroke="#000" stroke-opacity="0.4" stroke-width="1.1" stroke-linecap="square" fill="none"/>
<path d="M104.9 551.2h0M110.2 546.1h0M122.2 536.1h0M114.4 543.4h0M112.2 550.9h0M110.6 543.0h0M121.0 533.4h0M100.2 554.1h0M111.7 545.3h0M110.2 539.5h0M119.6 534.3h0M101.8 554.7h0M110.9 544.6h0M113.8 542.3h0M110.1 544.8h0M118.5 537.6h0M107.1 542.2h0M119.3 534.0h0M116.2 543.6h0M114.2 540.9h0M110.8 546.0h0M102.0 549.0h0M103.9 550.0h0M103.6 548.7h0M119.1 535.8h0" stroke="#000" stroke-opacity="0.4" stroke-width="1.1" stroke-linecap="square" fill="none"/>
<path d="M119.9 541.7h0M119.2 535.4h0M116.6 547.8h0M102.2 546.2h0M116.2 531.8h0M105.0 555.3h0M112.0 550.7h0M100.1 546.2h0M120.8 535.9h0M119.2 534.3h0M121.6 536.2h0M119.0 538.6h0M117.8 537.4h0M119.5 539.1h0M99.8 555.5h0M120.0 536.3h0M102.0 546.9h0M116.4 537.5h0M111.1 544.2h0M110.6 541.6h0M115.0 541.1h0M107.5 540.6h0M120.6 535.8h0M110.2 541.6h0M120.3 537.6h0" stroke="#000" stroke-opacity="0.4" stroke-width="1.1" stroke-linecap="square" fill="none"/>
<path d="M120.4 537.4h0M101.4 555.3h0M121.7 535.2h0M108.0 545.6h0M98.9 545.7h0M111.8 540.4h0M120.5 539.9h0M119.5 534.7h0M114.3 539.7h0M111.9 541.9h0M124.0 536.9h0M114.9 539.8h0M117.9 541.5h0M117.5 534.0h0M114.5 541.1h0M113.2 543.5h0M110.9 541.5h0M116.5 537.8h0M115.2 539.6h0M120.4 539.0h0M113.6 540.7h0M103.7 554.4h0M106.1 547.0h0M100.1 547.9h0M108.2 540.1h0" stroke="#000" stroke-opacity="0.4" stroke-width="1.1" stroke-linecap="square" fill="none"/>
<path d="M103.4 550.3h0M108.5 536.7h0M121.1 535.2h0M119.0 535.1h0M121.5 536.1h0M112.0 543.0h0M109.5 544.6h0M105.3 546.8h0M118.3 535.9h0M117.0 539.4h0M110.7 543.0h0M116.8 549.8h0M113.8 544.5h0M118.3 540.8h0M113.8 541.2h0M121.0 538.5h0M117.8 543.0h0M112.9 542.1h0M121.6 539.6h0M114.8 536.1h0M105.9 555.0h0M112.1 541.8h0M114.3 544.8h0M107.0 548.3h0M115.7 536.0h0" stroke="#000" stroke-opacity="0.4" stroke-width="1.1" stroke-linecap="square" fill="none"/>
<path d="M121.0 536.2h0M120.6 535.1h0M106.3 548.0h0M108.7 542.3h0M106.3 544.6h0M104.9 548.6h0M120.3 532.8h0M120.8 535.1h0M116.6 540.9h0M119.1 536.1h0M123.9 539.8h0M109.4 545.1h0M116.4 542.9h0M105.0 546.8h0M113.6 543.0h0M115.4 540.2h0M107.3 551.0h0M118.1 536.8h0M112.1 542.2h0M113.8 549.4h0M122.2 534.7h0M122.2 535.0h0M113.7 539.0h0M114.4 540.8h0M112.7 544.3h0" stroke="#000" stroke-opacity="0.4" stroke-width="1.1" stroke-linecap="square" fill="none"/>
<path d="M108.8 541.8h0M122.4 536.2h0M118.1 540.2h0M102.2 552.0h0M120.9 533.1h0M119.8 542.0h0M119.1 533.3h0M112.8 542.2h0M108.2 542.4h0M143.6 542.8h0M134.5 540.9h0M143.0 538.8h0M137.3 547.7h0M149.5 534.5h0M153.0 533.0h0M130.1 541.2h0M148.2 533.5h0M144.8 536.0h0M150.2 531.2h0M148.8 536.4h0M142.4 542.1h0M149.2 534.2h0M135.4 545.4h0M135.3 550.2h0M143.5 537.4h0" stroke="#000" stroke-opacity="0.4" stroke-width="1.1" stroke-linecap="square" fill="none"/>
<path d="M142.5 548.3h0M152.5 533.1h0M147.1 538.6h0M140.2 541.9h0M137.4 541.6h0M150.2 533.7h0M141.1 542.0h0M136.1 543.9h0M144.6 537.1h0M143.9 534.6h0M139.5 537.9h0M148.0 535.8h0M145.0 535.1h0M142.7 537.3h0M145.3 534.8h0M141.9 540.7h0M132.7 548.2h0M144.5 535.8h0M137.9 544.6h0M136.9 538.9h0M146.5 534.2h0M146.1 538.1h0M135.2 549.8h0M148.2 535.8h0M136.2 551.8h0" stroke="#000" stroke-opacity="0.4" stroke-width="1.1" stroke-linecap="square" fill="none"/>
<path d="M147.5 534.6h0M137.5 545.2h0M140.2 540.8h0M148.2 537.2h0M131.8 541.0h0M134.9 547.7h0M151.4 530.2h0M134.7 544.4h0M149.0 532.5h0M142.0 542.5h0M139.4 543.5h0M148.4 535.2h0M136.2 544.0h0M146.6 534.7h0M129.1 542.8h0M143.4 541.4h0M152.6 531.8h0M144.2 537.5h0M142.2 538.5h0M148.7 534.0h0M146.9 534.9h0M132.2 545.5h0M152.2 534.6h0M141.1 540.9h0M132.8 542.6h0" stroke="#000" stroke-opacity="0.4" stroke-width="1.1" stroke-linecap="square" fill="none"/>
<path d="M149.1 533.3h0M147.9 536.1h0M144.0 536.6h0M148.9 535.3h0M147.4 534.5h0M145.5 534.9h0M138.7 548.3h0M139.5 538.7h0M147.0 537.6h0M147.0 541.1h0M143.9 534.4h0M149.8 533.7h0M149.9 533.0h0M142.6 537.1h0M137.3 540.3h0M132.9 548.8h0M149.0 535.3h0M150.5 534.8h0M144.0 541.5h0M151.3 534.2h0M150.9 532.1h0M133.4 543.4h0M146.0 538.4h0M136.3 543.3h0M150.4 531.9h0" stroke="#000" stroke-opacity="0.4" stroke-width="1.1" stroke-linecap="square" fill="none"/>
<path d="M152.4 531.3h0M144.7 538.7h0M150.0 535.3h0M139.6 544.0h0M149.7 533.6h0M142.4 539.4h0M135.4 543.2h0M136.4 544.4h0M142.3 537.9h0M151.6 534.0h0M138.5 545.2h0M142.7 539.1h0M143.3 536.1h0M146.4 537.3h0M133.4 549.7h0M140.7 540.1h0M149.5 533.3h0M153.9 532.8h0M143.7 535.9h0M133.9 541.8h0M150.6 532.5h0M136.5 543.6h0M136.6 540.7h0M129.7 543.4h0M215.0 534.3h0" stroke="#000" stroke-opacity="0.4" stroke-width="1.1" stroke-linecap="square" fill="none"/>
<path d="M209.6 539.8h0M205.8 539.1h0M207.3 542.9h0M211.8 545.0h0M208.0 542.5h0M214.0 532.9h0M213.5 540.4h0M201.6 552.1h0M214.0 537.4h0M210.2 536.5h0M212.8 539.0h0M211.2 537.4h0M203.1 547.3h0M212.3 535.7h0M205.6 540.0h0M203.4 544.3h0M198.6 550.0h0M209.5 531.2h0M214.6 535.2h0M214.1 537.9h0M213.5 534.6h0M211.1 541.6h0M213.1 533.2h0M210.5 537.6h0M202.8 547.0h0" stroke="#000" stroke-opacity="0.4" stroke-width="1.1" stroke-linecap="square" fill="none"/>
<path d="M202.9 547.7h0M216.4 532.6h0M197.5 541.9h0M193.8 548.7h0M214.6 530.6h0M206.6 540.7h0M204.6 548.7h0M218.4 534.4h0M198.5 552.9h0M198.5 555.9h0M200.8 551.5h0M207.6 539.6h0M212.0 541.8h0M194.0 553.9h0M195.4 547.4h0M207.2 540.0h0M213.1 532.3h0M197.8 534.9h0M209.3 536.8h0M205.4 543.1h0M201.4 542.3h0M212.0 543.0h0M213.3 543.9h0M213.4 535.8h0M214.1 536.3h0" stroke="#000" stroke-opacity="0.4" stroke-width="1.1" stroke-linecap="square" fill="none"/>
<path d="M204.1 552.2h0M212.1 536.0h0M211.8 535.1h0M219.5 537.6h0M218.5 532.7h0M196.7 542.3h0M213.3 532.3h0M211.1 539.2h0M211.2 544.0h0M210.2 543.4h0M216.9 532.0h0M205.3 537.2h0M207.4 538.6h0M208.2 543.9h0M218.6 533.5h0M208.0 547.0h0M217.3 532.7h0M207.4 542.9h0M214.1 538.2h0M215.7 536.5h0M210.0 537.7h0M208.7 544.8h0M209.8 539.4h0M205.2 539.9h0M199.6 555.1h0" stroke="#000" stroke-opacity="0.4" stroke-width="1.1" stroke-linecap="square" fill="none"/>
<path d="M216.4 531.9h0M217.7 538.7h0M195.8 554.6h0M215.6 533.9h0M197.8 550.6h0M205.1 542.9h0M207.1 549.8h0M211.5 551.7h0M202.7 546.7h0M201.3 542.6h0M216.1 532.9h0M207.8 540.7h0M199.8 546.3h0M211.9 542.8h0M214.3 531.8h0M210.0 543.8h0M212.1 537.0h0M204.7 540.8h0M206.6 545.5h0M214.5 531.0h0M213.5 534.8h0M219.2 540.9h0M210.8 536.0h0M207.1 538.0h0M206.1 546.4h0" stroke="#000" stroke-opacity="0.4" stroke-width="1.1" stroke-linecap="square" fill="none"/>
<path d="M211.9 535.7h0M203.7 550.7h0M201.7 541.0h0M205.5 541.5h0M209.3 544.3h0M207.9 540.9h0M215.3 535.7h0M214.0 531.3h0M212.7 533.6h0M210.8 542.3h0M212.7 535.0h0M215.4 538.5h0M216.3 537.3h0M208.8 540.3h0M211.8 537.0h0M218.3 534.7h0M209.7 534.8h0M212.4 535.0h0M196.8 540.7h0M209.7 556.0h0M213.6 539.2h0M218.3 534.5h0M211.4 543.0h0M206.2 542.7h0M213.3 550.6h0" stroke="#000" stroke-opacity="0.4" stroke-width="1.1" stroke-linecap="square" fill="none"/>
<path d="M213.2 531.7h0M207.3 544.8h0M193.9 552.9h0M206.3 539.0h0M217.5 533.7h0M209.8 539.7h0M206.8 537.6h0M206.6 541.9h0M211.8 540.9h0M203.7 546.1h0M217.7 533.9h0M195.9 540.9h0M204.1 546.1h0M204.9 539.9h0M215.7 536.8h0M212.1 539.9h0M213.2 532.5h0M217.4 531.6h0M214.3 540.1h0M210.2 536.9h0M207.7 538.0h0M200.6 539.8h0M213.7 534.2h0M210.1 540.7h0M202.7 545.7h0" stroke="#000" stroke-opacity="0.4" stroke-width="1.1" stroke-linecap="square" fill="none"/>
<path d="M198.3 548.0h0M204.7 540.5h0M213.1 533.5h0M209.2 533.8h0M212.0 533.8h0M210.9 543.4h0M211.1 535.3h0M213.1 538.7h0M210.7 537.1h0M213.0 541.0h0M216.2 531.6h0M209.3 538.3h0M209.2 543.7h0M199.6 550.8h0M205.6 546.0h0M195.7 547.6h0M208.4 538.2h0M207.6 543.2h0M215.7 532.9h0M216.9 535.5h0M215.8 543.8h0M212.6 537.5h0M214.0 534.2h0M201.4 544.1h0M214.0 535.8h0" stroke="#000" stroke-opacity="0.4" stroke-width="1.1" stroke-linecap="square" fill="none"/>
<path d="M209.7 547.8h0M209.1 545.9h0M216.9 535.1h0M206.1 537.3h0M211.7 538.6h0M209.0 533.2h0M219.7 534.6h0M212.5 537.8h0M213.6 538.6h0M196.7 548.2h0M209.6 538.1h0M196.3 552.8h0M214.2 536.1h0M207.6 539.0h0M218.7 538.5h0M216.3 533.6h0M200.8 542.9h0M211.5 548.9h0M215.3 533.5h0M212.1 533.6h0M212.8 534.7h0M209.3 548.5h0M217.1 531.5h0M208.5 540.6h0M213.4 532.2h0" stroke="#000" stroke-opacity="0.4" stroke-width="1.1" stroke-linecap="square" fill="none"/>
<path d="M210.0 546.1h0M212.1 546.6h0M207.3 536.0h0M205.0 547.7h0M213.6 534.7h0M197.0 545.7h0M202.1 545.9h0M215.2 533.6h0M216.1 538.6h0M204.3 548.1h0M218.9 540.9h0M217.2 531.6h0M213.2 539.7h0M216.4 534.0h0M207.2 537.8h0M203.0 548.7h0M206.4 552.3h0M219.2 535.4h0M208.3 537.5h0M216.8 531.1h0M210.9 535.6h0M216.6 531.8h0M210.7 530.8h0M196.0 545.7h0M214.4 537.1h0" stroke="#000" stroke-opacity="0.4" stroke-width="1.1" stroke-linecap="square" fill="none"/>
<path d="M200.0 547.6h0M206.9 541.5h0M214.3 537.4h0M211.6 534.0h0M209.7 542.7h0M207.6 531.1h0M196.2 546.4h0M203.8 546.5h0M217.5 540.4h0M194.1 550.1h0M193.0 546.1h0M212.5 536.1h0M207.3 540.1h0M214.9 531.6h0M209.2 544.1h0M195.9 552.3h0M209.6 539.6h0M211.4 532.3h0M207.5 538.0h0M199.8 543.7h0M214.4 540.2h0M213.1 551.3h0M217.8 534.0h0M206.8 542.5h0M202.3 555.6h0" stroke="#000" stroke-opacity="0.4" stroke-width="1.1" stroke-linecap="square" fill="none"/>
<path d="M215.2 538.9h0M211.3 533.9h0M194.6 551.4h0M214.1 534.1h0M217.6 537.1h0M210.8 538.7h0M217.6 531.8h0M211.3 534.2h0M219.4 534.2h0M211.4 537.9h0M216.3 535.0h0M211.7 537.9h0M213.6 543.7h0M241.1 538.6h0M228.1 544.4h0M244.3 531.7h0M236.7 537.3h0M239.2 532.1h0M234.2 541.2h0M239.0 533.8h0M235.2 542.9h0M240.0 534.9h0M225.6 541.7h0M227.9 546.3h0M234.2 537.1h0" stroke="#000" stroke-opacity="0.4" stroke-width="1.1" stroke-linecap="square" fill="none"/>
<path d="M227.2 541.3h0M230.4 545.7h0M236.1 539.5h0M240.1 535.4h0M235.8 542.9h0M244.9 530.8h0M240.7 528.8h0M238.1 535.7h0M237.3 536.3h0M241.5 531.9h0M241.2 535.1h0M244.6 531.1h0M232.9 541.9h0M233.1 541.4h0M244.9 533.2h0M237.2 540.7h0M243.7 533.1h0M229.5 548.5h0M235.8 532.5h0M232.2 543.4h0M236.5 537.5h0M244.4 530.8h0M238.7 538.8h0M237.8 535.2h0M235.8 537.2h0" stroke="#000" stroke-opacity="0.4" stroke-width="1.1" stroke-linecap="square" fill="none"/>
<path d="M231.0 541.9h0M238.6 537.0h0M230.7 545.0h0M231.6 545.9h0M239.3 537.2h0M235.4 541.2h0M240.9 531.0h0M244.6 532.5h0M236.5 542.4h0M242.7 530.2h0M241.6 537.0h0M234.6 541.0h0M235.4 541.7h0M240.0 533.6h0M237.5 534.2h0M242.0 534.7h0M243.1 531.3h0M236.1 536.4h0M242.3 534.1h0M240.7 530.6h0M238.3 541.1h0M238.3 540.3h0M233.2 543.4h0M244.7 530.1h0M237.2 538.3h0" stroke="#000" stroke-opacity="0.4" stroke-width="1.1" stroke-linecap="square" fill="none"/>
<path d="M237.9 534.4h0M228.7 541.8h0M233.7 537.8h0M228.9 546.4h0M233.4 539.6h0M235.6 541.8h0M232.4 539.3h0M240.9 532.3h0M240.4 536.4h0M234.3 543.2h0M243.2 528.5h0M240.5 535.5h0M231.3 547.8h0M244.2 530.4h0M239.8 534.7h0M236.6 539.4h0M243.8 531.4h0M229.6 545.1h0M232.4 543.4h0M236.4 538.8h0M235.5 537.6h0M242.9 530.1h0M240.4 534.6h0M240.2 537.0h0M239.8 533.2h0" stroke="#000" stroke-opacity="0.4" stroke-width="1.1" stroke-linecap="square" fill="none"/>
<path d="M232.6 537.7h0M241.4 532.6h0M240.3 534.4h0M246.0 531.5h0M238.7 538.6h0M229.7 544.7h0M238.3 539.5h0M242.9 530.5h0M236.6 535.0h0M225.2 543.1h0M232.0 545.2h0M237.4 539.4h0M240.8 534.2h0M240.5 532.8h0M235.4 545.0h0M234.6 541.3h0M239.1 534.8h0M233.4 538.8h0M233.8 537.2h0M237.2 544.2h0M237.3 541.0h0M238.3 538.3h0M235.7 537.9h0M236.0 538.1h0M241.8 533.0h0" stroke="#000" stroke-opacity="0.4" stroke-width="1.1" stroke-linecap="square" fill="none"/>
<path d="M237.1 539.2h0M234.8 543.0h0M234.7 548.4h0M240.0 535.3h0M237.7 540.1h0M236.5 540.0h0M242.4 534.7h0M242.1 533.9h0M244.7 532.1h0M227.7 546.5h0M236.7 537.1h0M242.3 536.3h0M229.1 543.3h0M237.2 536.4h0M232.4 544.8h0M234.8 542.1h0" stroke="#000" stroke-opacity="0.4" stroke-width="1.1" stroke-linecap="square" fill="none"/>
<path d="M233.2 506.5h0M241.8 501.9h0M239.2 505.1h0M234.3 502.2h0M237.8 508.5h0M237.2 508.9h0M230.1 509.0h0M238.6 498.5h0M240.6 507.6h0M240.2 508.4h0M231.6 508.6h0M235.0 505.3h0M237.0 500.4h0M234.1 505.3h0M238.3 506.5h0M235.0 508.9h0M232.8 511.3h0M231.6 511.3h0M240.0 505.4h0M240.2 509.9h0M234.1 510.5h0M241.2 512.0h0M232.1 506.3h0M238.7 509.8h0M238.9 508.6h0" stroke="#000" stroke-opacity="0.6" stroke-width="1.0" stroke-linecap="square" fill="none"/>
<path d="M237.6 506.7h0M236.9 502.7h0M236.3 499.6h0M237.0 506.8h0M236.0 514.4h0M227.7 512.3h0M237.8 508.5h0M241.9 503.4h0M236.6 508.8h0M233.5 508.2h0M233.1 502.4h0M235.4 508.3h0M234.2 505.1h0M235.3 503.5h0M234.8 515.3h0M235.2 506.7h0M237.0 505.3h0M238.4 511.8h0M237.7 509.4h0M234.7 510.3h0M233.7 504.5h0M237.3 509.1h0M231.4 507.3h0M235.3 504.7h0M234.0 504.1h0" stroke="#000" stroke-opacity="0.6" stroke-width="1.0" stroke-linecap="square" fill="none"/>
<path d="M230.4 508.0h0M242.6 501.3h0M239.1 500.1h0M237.5 504.7h0M235.8 506.7h0M235.8 511.8h0M234.5 507.3h0M238.6 507.1h0M236.1 504.7h0M239.0 509.4h0M239.5 507.8h0M238.7 509.5h0M238.1 502.9h0M231.7 505.5h0M231.6 507.4h0M230.9 509.6h0M237.3 509.0h0M234.8 501.0h0M234.6 515.4h0M232.7 515.3h0M239.0 506.3h0M233.5 507.2h0M238.2 503.9h0M236.9 508.3h0M233.6 499.5h0" stroke="#000" stroke-opacity="0.6" stroke-width="1.0" stroke-linecap="square" fill="none"/>
<path d="M233.7 509.6h0M236.9 511.2h0M237.4 502.1h0" stroke="#000" stroke-opacity="0.6" stroke-width="1.0" stroke-linecap="square" fill="none"/>
<path d="M107.5 551.2h0M106.7 543.9h0M105.5 555.7h0M110.6 540.1h0M102.5 551.8h0M100.4 541.7h0M116.9 543.2h0M98.1 555.2h0M120.9 535.8h0M99.7 551.8h0M103.1 552.4h0M120.5 535.2h0M104.9 545.8h0M105.2 547.8h0M114.0 538.5h0M98.8 553.0h0M109.4 543.5h0M115.9 541.9h0M103.5 552.8h0M117.3 540.2h0M104.8 544.6h0M117.3 540.7h0M117.2 541.2h0M97.0 552.4h0M115.8 539.6h0" stroke="#000" stroke-opacity="0.6" stroke-width="1.1" stroke-linecap="square" fill="none"/>
<path d="M98.3 556.3h0M116.4 541.0h0M102.8 554.4h0M118.7 542.6h0M106.2 550.2h0M104.8 544.2h0M112.3 544.7h0M102.6 554.1h0M112.2 543.7h0M119.2 538.9h0M97.6 553.5h0M118.8 534.8h0M108.9 548.3h0M108.7 548.5h0M110.7 543.0h0M98.1 552.2h0M112.9 537.7h0M116.2 546.5h0M117.7 540.8h0M96.6 555.8h0M108.8 542.0h0M112.6 548.9h0M117.5 535.9h0M114.6 546.7h0M99.1 551.9h0" stroke="#000" stroke-opacity="0.6" stroke-width="1.1" stroke-linecap="square" fill="none"/>
<path d="M113.0 549.0h0M118.7 539.3h0M112.9 540.9h0M113.5 540.2h0M99.9 556.0h0M105.5 544.2h0M102.3 552.9h0M115.5 538.0h0M109.4 545.1h0M100.6 550.9h0M102.5 552.3h0M96.9 552.5h0M97.9 553.2h0M102.4 553.1h0M112.3 542.4h0M103.7 554.4h0M109.8 545.5h0M107.0 549.3h0M113.1 539.1h0M113.6 544.0h0M104.0 549.3h0M97.7 552.6h0M109.1 548.8h0M119.4 535.7h0M108.9 544.5h0" stroke="#000" stroke-opacity="0.6" stroke-width="1.1" stroke-linecap="square" fill="none"/>
<path d="M97.7 554.5h0M99.9 550.1h0M113.5 548.1h0M116.4 543.0h0M111.6 543.9h0M98.0 553.2h0M120.7 535.9h0M110.5 541.0h0M101.9 550.5h0M100.9 551.6h0M114.8 543.6h0M112.9 541.5h0M100.4 554.4h0M98.8 550.2h0M104.4 549.6h0M108.2 545.5h0M107.3 552.1h0M114.6 541.3h0M108.5 543.4h0M109.2 546.0h0M116.4 541.1h0M108.9 547.3h0M105.9 551.0h0M110.5 545.3h0M113.3 545.5h0" stroke="#000" stroke-opacity="0.6" stroke-width="1.1" stroke-linecap="square" fill="none"/>
<path d="M100.6 554.1h0M97.2 554.3h0M110.6 542.4h0M116.2 541.2h0M111.4 551.9h0M118.3 537.8h0M100.1 550.3h0M113.1 542.5h0M113.5 542.9h0M110.0 544.3h0M105.9 547.5h0M101.5 552.9h0M112.3 544.1h0M99.1 554.7h0M114.9 535.3h0M98.3 551.1h0M110.1 552.1h0M111.8 540.8h0M119.7 539.3h0M109.7 546.8h0M96.8 551.0h0M100.4 551.8h0M106.9 546.4h0M116.3 540.2h0M98.2 543.8h0" stroke="#000" stroke-opacity="0.6" stroke-width="1.1" stroke-linecap="square" fill="none"/>
<path d="M110.6 548.5h0M98.6 556.0h0M102.2 554.7h0M103.8 553.2h0M116.6 538.6h0M110.9 548.2h0M116.9 539.8h0M118.5 538.2h0M107.8 552.4h0M116.9 536.6h0M111.4 548.2h0M107.8 550.1h0M112.8 543.6h0M120.1 539.0h0M103.1 550.4h0M105.8 548.4h0M113.8 540.7h0M106.7 553.5h0M108.0 542.6h0M107.9 538.6h0M115.2 542.2h0M110.8 549.2h0M109.5 538.2h0M98.8 552.5h0M113.2 544.3h0" stroke="#000" stroke-opacity="0.6" stroke-width="1.1" stroke-linecap="square" fill="none"/>
<path d="M121.8 538.2h0M116.4 551.1h0M107.9 544.5h0M112.3 550.7h0M113.2 547.5h0M121.0 535.9h0M96.7 554.0h0M100.7 554.9h0M119.0 534.7h0M108.2 542.7h0M114.6 538.4h0M112.2 544.3h0M117.0 541.4h0M97.7 556.3h0M110.2 541.3h0M98.9 553.4h0M102.3 546.1h0M103.7 553.3h0M113.8 542.5h0M108.0 554.9h0M105.5 553.5h0M99.9 552.6h0M111.3 548.9h0M107.7 542.2h0M99.0 553.1h0" stroke="#000" stroke-opacity="0.6" stroke-width="1.1" stroke-linecap="square" fill="none"/>
<path d="M109.5 542.9h0M110.8 544.5h0M108.1 548.2h0M103.4 546.4h0M105.8 549.4h0M113.2 541.5h0M112.5 540.0h0M105.3 548.9h0M101.6 554.5h0M112.7 540.1h0M144.2 535.2h0M138.2 546.6h0M141.2 541.0h0M131.9 547.0h0M133.5 540.1h0M145.8 535.9h0M145.4 536.6h0M138.4 542.0h0M147.8 534.9h0M140.4 541.2h0M132.3 542.6h0M139.7 541.6h0M139.7 537.8h0M131.0 544.8h0M133.9 551.6h0" stroke="#000" stroke-opacity="0.6" stroke-width="1.1" stroke-linecap="square" fill="none"/>
<path d="M134.1 550.8h0M132.9 542.8h0M147.6 535.5h0M149.8 535.1h0M141.7 544.6h0M129.7 544.0h0M138.2 542.5h0M135.3 542.3h0M144.2 535.4h0M139.2 548.0h0M130.3 544.5h0M131.5 545.7h0M142.5 538.6h0M139.0 544.3h0M138.1 543.5h0M132.1 544.6h0M137.7 545.3h0M137.0 548.6h0M135.2 545.7h0M131.5 544.3h0M132.8 547.8h0M140.2 542.6h0M134.3 549.1h0M131.9 544.8h0M130.9 544.8h0" stroke="#000" stroke-opacity="0.6" stroke-width="1.1" stroke-linecap="square" fill="none"/>
<path d="M138.9 544.3h0M146.7 537.3h0M136.4 542.9h0M140.5 540.5h0M143.3 535.8h0M133.0 546.6h0M147.3 536.7h0M138.9 540.7h0M136.6 539.1h0M131.0 544.2h0M145.6 537.6h0M134.3 549.3h0M135.8 546.2h0M134.5 550.9h0M140.6 536.9h0M147.7 539.6h0M130.9 547.5h0M141.2 539.8h0M135.4 544.2h0M137.3 539.1h0M136.9 546.8h0M131.0 543.2h0M136.6 543.5h0M137.4 546.6h0M140.6 539.8h0" stroke="#000" stroke-opacity="0.6" stroke-width="1.1" stroke-linecap="square" fill="none"/>
<path d="M127.4 541.0h0M133.6 543.3h0M134.8 551.3h0M147.3 535.4h0M139.1 542.9h0M131.8 547.0h0M147.2 534.5h0M130.0 546.4h0M131.5 547.1h0M139.2 544.6h0M138.8 543.2h0M150.9 534.3h0M140.9 539.5h0M145.6 538.8h0M138.5 542.2h0M149.5 534.2h0M133.1 549.4h0M139.3 541.4h0M140.8 541.0h0M135.6 542.0h0M137.3 548.6h0M142.6 539.1h0M132.5 547.4h0M136.8 540.8h0M146.1 537.6h0" stroke="#000" stroke-opacity="0.6" stroke-width="1.1" stroke-linecap="square" fill="none"/>
<path d="M138.1 544.3h0M141.3 543.4h0M139.5 543.3h0M128.7 546.2h0M134.0 544.2h0M134.7 545.3h0M133.0 546.0h0M136.0 542.7h0M136.5 546.6h0M140.1 542.5h0M135.3 546.1h0M138.6 542.8h0M133.6 546.6h0M135.2 541.7h0M134.4 545.0h0M141.6 543.3h0M138.7 539.2h0M134.1 543.2h0M141.3 543.9h0M136.9 544.8h0M134.5 543.6h0M131.4 544.2h0M141.5 543.4h0M131.3 544.3h0M139.6 541.6h0" stroke="#000" stroke-opacity="0.6" stroke-width="1.1" stroke-linecap="square" fill="none"/>
<path d="M133.9 545.4h0M125.6 545.8h0M128.4 546.9h0M137.3 544.3h0M130.3 545.4h0M133.6 549.3h0M134.1 548.9h0M133.9 541.1h0M128.4 544.9h0M131.0 546.0h0M140.7 541.2h0M137.2 542.5h0M131.1 546.3h0M134.5 541.9h0M137.0 543.3h0M136.1 542.5h0M135.7 544.6h0M131.6 548.1h0M130.5 545.7h0M131.7 544.4h0M138.5 540.1h0M136.5 544.0h0M133.9 544.0h0M135.9 543.6h0M138.6 542.5h0" stroke="#000" stroke-opacity="0.6" stroke-width="1.1" stroke-linecap="square" fill="none"/>
<path d="M136.1 541.3h0M136.5 546.6h0M137.7 545.6h0M129.3 547.0h0M131.8 545.5h0M133.3 542.4h0M136.1 545.3h0M139.8 541.4h0M135.6 543.1h0M138.3 540.5h0M201.8 544.9h0M208.8 550.6h0M207.3 548.2h0M207.2 544.4h0M214.3 530.9h0M194.4 555.1h0M198.4 552.1h0M211.5 541.7h0M205.4 555.9h0M202.4 556.0h0M207.3 540.8h0M195.1 549.4h0M202.4 544.8h0M202.0 542.7h0M200.9 545.0h0" stroke="#000" stroke-opacity="0.6" stroke-width="1.1" stroke-linecap="square" fill="none"/>
<path d="M208.3 542.6h0M193.2 543.7h0M209.8 543.5h0M198.8 553.2h0M201.4 544.5h0M209.5 544.7h0M201.5 555.4h0M205.6 549.8h0M210.0 543.8h0M208.8 539.2h0M199.7 542.6h0M218.4 535.6h0M197.4 555.6h0M206.4 550.3h0M215.8 541.8h0M199.5 552.2h0M202.8 539.3h0M194.8 552.1h0M204.3 550.1h0M199.1 548.6h0M197.9 542.0h0M196.5 555.1h0M201.4 548.2h0M198.7 550.1h0M202.0 541.6h0" stroke="#000" stroke-opacity="0.6" stroke-width="1.1" stroke-linecap="square" fill="none"/>
<path d="M199.9 547.8h0M197.9 549.2h0M199.2 549.7h0M198.8 547.2h0M207.2 541.9h0M211.2 545.2h0M192.9 548.9h0M205.7 545.2h0M218.1 534.5h0M211.9 532.6h0M210.1 538.7h0M201.2 547.9h0M200.3 548.2h0M208.4 540.8h0M195.8 545.4h0M209.0 541.4h0M209.3 535.8h0M211.5 539.5h0M210.4 542.9h0M213.4 544.4h0M199.8 542.9h0M202.0 537.8h0M201.0 551.8h0M203.2 539.9h0M215.3 531.7h0" stroke="#000" stroke-opacity="0.6" stroke-width="1.1" stroke-linecap="square" fill="none"/>
<path d="M204.6 544.4h0M206.7 545.0h0M211.0 539.4h0M196.5 548.8h0M199.1 548.2h0M202.7 551.1h0M209.5 546.9h0M197.6 549.4h0M205.6 545.6h0M196.5 550.2h0M205.1 541.9h0M203.7 551.6h0M205.7 549.2h0M200.7 546.3h0M203.0 539.9h0M201.4 544.7h0M210.9 534.5h0M200.5 553.7h0M210.4 538.1h0M214.5 533.6h0M201.3 548.3h0M215.3 537.7h0M215.1 540.7h0M196.8 546.1h0M205.6 539.4h0" stroke="#000" stroke-opacity="0.6" stroke-width="1.1" stroke-linecap="square" fill="none"/>
<path d="M202.6 544.7h0M208.2 540.1h0M205.5 547.0h0M215.1 535.1h0M203.6 546.1h0M203.6 548.7h0M197.1 555.6h0M211.3 540.0h0M198.6 553.5h0M202.8 548.4h0M203.7 550.7h0M194.3 555.5h0M205.4 542.2h0M203.8 551.8h0M212.0 540.0h0M209.0 539.2h0M200.5 547.7h0M208.0 547.4h0M209.2 547.8h0M200.8 538.0h0M195.0 551.4h0M207.4 539.7h0M209.3 535.7h0M202.6 547.9h0M216.0 533.4h0" stroke="#000" stroke-opacity="0.6" stroke-width="1.1" stroke-linecap="square" fill="none"/>
<path d="M206.2 535.6h0M194.8 553.2h0M205.9 539.5h0M210.9 541.7h0M208.5 542.5h0M192.6 552.5h0M207.4 543.6h0M202.4 538.6h0M207.1 544.4h0M196.7 555.9h0M211.1 537.6h0M213.5 537.5h0M199.1 552.4h0M196.3 554.3h0M201.1 548.0h0M203.8 548.8h0M195.8 539.8h0M192.4 554.9h0M198.7 549.8h0M214.5 547.1h0M197.6 554.0h0M210.5 540.3h0M204.2 551.2h0M194.7 553.1h0M205.5 540.5h0" stroke="#000" stroke-opacity="0.6" stroke-width="1.1" stroke-linecap="square" fill="none"/>
<path d="M204.7 549.8h0M199.3 545.3h0M209.3 542.7h0M193.0 552.2h0M204.4 538.7h0M213.2 535.9h0M212.0 534.2h0M201.8 553.1h0M203.3 552.5h0M194.4 554.5h0M192.1 554.3h0M196.6 555.6h0M209.4 546.3h0M205.7 546.1h0M212.2 537.6h0M207.2 548.7h0M211.6 531.2h0M207.7 535.5h0M201.5 551.7h0M200.9 537.4h0M213.2 541.6h0M204.9 546.8h0M206.4 546.9h0M202.9 547.2h0M214.5 538.6h0" stroke="#000" stroke-opacity="0.6" stroke-width="1.1" stroke-linecap="square" fill="none"/>
<path d="M193.5 555.4h0M192.1 554.3h0M203.0 544.2h0M211.1 540.6h0M209.3 545.7h0M205.2 541.2h0M211.1 547.2h0M197.3 552.4h0M200.3 553.9h0M218.0 534.1h0M209.6 542.1h0M192.7 553.5h0M205.4 542.5h0M211.2 537.0h0M207.0 549.1h0M206.2 541.4h0M216.2 532.7h0M194.0 556.1h0M202.0 552.8h0M198.6 550.5h0M200.0 547.3h0M216.0 537.6h0M204.5 552.6h0M210.6 545.3h0M211.1 537.0h0" stroke="#000" stroke-opacity="0.6" stroke-width="1.1" stroke-linecap="square" fill="none"/>
<path d="M193.0 554.5h0M207.9 542.6h0M199.4 555.0h0M195.1 551.0h0M213.2 539.0h0M199.4 552.3h0M204.5 552.6h0M201.7 541.9h0M196.5 551.1h0M204.7 544.3h0M210.7 539.0h0M204.5 539.3h0M210.0 544.5h0M201.0 544.4h0M207.2 537.2h0M205.9 550.5h0M193.1 549.1h0M203.5 549.0h0M201.5 538.2h0M213.0 538.7h0M208.0 543.1h0M204.5 549.9h0M218.0 537.3h0M207.7 552.4h0M205.5 549.3h0" stroke="#000" stroke-opacity="0.6" stroke-width="1.1" stroke-linecap="square" fill="none"/>
<path d="M199.8 548.9h0M194.6 555.5h0M198.3 533.3h0M193.4 550.0h0M207.8 541.2h0M201.3 543.3h0M196.2 551.8h0M193.1 556.1h0M203.0 543.4h0M214.8 533.7h0M199.6 539.8h0M202.3 546.2h0M193.2 545.9h0M202.9 540.7h0M209.2 548.4h0M202.1 554.3h0M204.4 542.1h0M196.1 553.0h0M209.7 537.7h0M195.7 553.8h0M210.0 542.4h0M197.6 549.7h0M192.3 548.1h0M195.7 554.4h0M212.5 538.0h0" stroke="#000" stroke-opacity="0.6" stroke-width="1.1" stroke-linecap="square" fill="none"/>
<path d="M194.2 554.6h0M213.5 547.1h0M203.9 542.3h0M202.7 553.9h0M215.8 540.8h0M208.4 541.3h0M200.4 546.2h0M216.8 534.4h0M209.1 544.7h0M212.8 538.9h0M217.6 536.2h0M192.6 554.5h0M231.3 545.8h0M233.1 541.3h0M238.6 541.8h0M234.4 548.5h0M232.7 542.4h0M228.8 544.1h0M233.3 544.1h0M233.7 542.1h0M239.1 536.3h0M233.4 544.0h0M236.1 539.8h0M232.7 547.6h0M230.8 546.0h0" stroke="#000" stroke-opacity="0.6" stroke-width="1.1" stroke-linecap="square" fill="none"/>
<path d="M225.2 541.8h0M237.8 542.0h0M236.6 537.4h0M228.6 547.7h0M234.9 540.4h0M233.2 537.8h0M236.4 541.2h0M230.1 545.7h0M228.6 546.0h0M235.0 547.6h0M231.7 539.6h0M224.5 544.3h0M242.7 536.0h0M230.6 547.3h0M233.0 544.2h0M231.2 546.5h0M233.0 540.0h0M239.8 533.4h0M239.9 537.2h0M232.2 538.8h0M232.5 545.7h0M240.2 534.2h0M234.0 539.1h0M241.2 538.2h0M228.6 548.1h0" stroke="#000" stroke-opacity="0.6" stroke-width="1.1" stroke-linecap="square" fill="none"/>
<path d="M231.6 543.3h0M228.0 545.9h0M241.8 534.9h0M229.9 541.5h0M239.9 533.3h0M236.0 541.6h0M236.9 545.2h0M235.5 538.7h0M237.3 536.5h0M241.6 536.1h0M229.7 545.7h0M231.4 541.5h0M236.3 536.0h0M232.4 538.4h0M226.0 545.9h0M236.7 541.3h0M226.2 544.6h0M232.7 540.4h0M232.5 548.2h0M240.5 539.6h0M236.8 538.5h0M232.3 541.2h0M234.6 541.3h0M229.1 543.2h0M228.7 546.8h0" stroke="#000" stroke-opacity="0.6" stroke-width="1.1" stroke-linecap="square" fill="none"/>
<path d="M228.3 546.3h0M234.2 544.4h0M226.6 541.4h0M235.2 538.4h0M228.2 546.5h0M228.6 545.7h0M227.6 546.6h0M238.2 540.0h0M234.7 549.8h0M226.7 543.9h0M233.9 539.6h0M233.9 553.0h0M231.1 546.7h0M230.3 543.6h0M226.9 541.6h0M238.8 541.4h0M236.9 533.3h0M232.1 543.9h0M233.8 537.0h0M230.5 549.1h0M231.6 542.8h0M232.9 542.1h0M235.9 540.4h0M224.7 544.1h0M237.0 536.9h0" stroke="#000" stroke-opacity="0.6" stroke-width="1.1" stroke-linecap="square" fill="none"/>
<path d="M235.3 537.9h0M235.9 542.8h0M227.9 543.8h0M228.6 543.8h0M230.8 549.6h0M226.4 546.5h0M226.5 542.4h0M232.2 541.9h0M234.1 544.1h0M236.9 539.7h0M228.5 542.3h0M235.5 543.8h0M232.9 539.3h0M247.3 531.4h0M236.0 541.3h0M228.3 543.2h0M234.8 542.3h0M227.6 545.7h0M234.2 538.6h0M227.4 540.3h0M231.7 543.8h0M232.5 540.9h0M223.5 547.8h0M229.8 540.9h0M241.1 540.5h0" stroke="#000" stroke-opacity="0.6" stroke-width="1.1" stroke-linecap="square" fill="none"/>
<path d="M227.6 550.2h0M235.9 541.5h0M226.1 547.1h0M235.4 541.6h0M232.0 545.3h0M227.9 545.2h0M220.0 543.5h0M237.4 541.7h0M231.8 541.3h0M228.3 547.6h0M227.0 541.8h0M231.3 547.5h0M236.1 541.7h0M234.6 543.2h0M233.3 539.2h0M227.2 549.0h0M234.3 542.2h0M226.5 544.7h0M231.9 541.3h0M230.4 542.3h0M228.7 538.6h0M225.1 548.2h0M224.3 548.7h0M229.8 545.5h0M228.4 542.3h0" stroke="#000" stroke-opacity="0.6" stroke-width="1.1" stroke-linecap="square" fill="none"/>
<path d="M221.8 546.8h0M234.6 544.1h0M237.8 539.1h0M236.9 541.9h0M230.8 545.2h0M232.8 546.5h0M232.7 543.0h0M228.5 542.7h0M237.1 547.6h0M234.9 541.3h0M228.6 547.7h0M225.6 546.4h0M233.3 545.6h0M225.9 544.6h0M235.8 538.9h0M238.4 542.7h0M236.8 543.0h0M226.5 546.2h0M226.0 544.2h0M243.3 543.3h0M235.9 540.5h0M229.2 542.9h0M236.4 543.0h0M230.0 542.2h0M232.7 545.2h0" stroke="#000" stroke-opacity="0.6" stroke-width="1.1" stroke-linecap="square" fill="none"/>
<path d="M235.3 545.8h0M239.4 540.9h0M233.3 539.7h0M228.6 541.9h0M229.0 547.8h0M238.8 537.5h0M233.0 542.6h0M228.3 543.9h0M232.8 546.7h0M232.7 544.1h0M231.9 542.1h0M224.9 540.9h0" stroke="#000" stroke-opacity="0.6" stroke-width="1.1" stroke-linecap="square" fill="none"/>
<path d="M105.4 549.3h0M104.7 555.9h0M97.7 555.0h0M103.3 553.0h0M105.8 552.6h0M97.7 547.8h0M111.2 544.6h0M108.4 552.8h0M104.0 547.4h0M98.8 553.0h0M103.3 550.6h0M109.7 546.2h0M101.2 546.6h0M103.9 553.2h0M113.0 547.8h0M99.4 556.2h0M101.0 549.4h0M104.3 551.9h0M105.8 552.9h0M100.6 553.1h0M104.2 546.6h0M100.1 548.4h0M100.1 553.6h0M102.0 549.1h0M104.1 552.8h0" stroke="#000" stroke-opacity="0.8" stroke-width="1.1" stroke-linecap="square" fill="none"/>
<path d="M103.7 550.5h0M100.2 551.4h0M99.8 555.5h0M99.9 550.2h0M96.7 555.8h0M103.3 549.7h0M99.1 547.6h0M99.6 555.5h0M98.8 550.8h0M108.5 548.5h0M106.1 554.9h0M97.9 545.5h0M111.1 551.0h0M106.5 552.2h0M111.4 545.9h0M107.0 543.2h0M109.8 548.7h0M105.3 547.6h0M97.1 554.6h0M97.4 553.9h0M108.1 550.7h0M98.3 551.5h0M96.6 548.8h0M101.1 555.7h0M103.0 546.6h0" stroke="#000" stroke-opacity="0.8" stroke-width="1.1" stroke-linecap="square" fill="none"/>
<path d="M105.7 548.3h0M106.2 552.0h0M107.9 544.5h0M100.3 549.9h0M102.5 554.1h0M100.3 546.0h0M111.0 548.1h0M100.1 544.7h0M97.1 547.2h0M100.4 547.5h0M113.5 548.6h0M111.7 553.1h0M104.5 548.5h0M107.3 550.7h0M99.3 550.0h0M99.1 552.1h0M97.6 548.7h0M98.2 549.7h0M100.0 550.0h0M102.1 553.9h0M105.1 543.9h0M97.5 554.3h0M112.2 547.0h0M100.1 548.9h0M102.3 551.9h0" stroke="#000" stroke-opacity="0.8" stroke-width="1.1" stroke-linecap="square" fill="none"/>
<path d="M99.3 551.5h0M100.7 548.2h0M99.3 555.3h0M98.9 546.2h0M102.0 548.1h0M109.1 554.8h0M100.1 545.7h0M102.4 553.8h0M105.0 550.5h0M105.4 547.7h0M108.8 556.1h0M109.6 550.4h0M107.9 547.3h0M99.7 549.9h0M103.1 552.1h0M98.8 555.3h0M105.9 550.4h0M101.5 552.4h0M98.6 554.2h0M106.5 554.8h0M96.5 549.6h0M107.2 552.4h0M134.7 550.5h0M131.9 545.3h0M139.9 542.5h0" stroke="#000" stroke-opacity="0.8" stroke-width="1.1" stroke-linecap="square" fill="none"/>
<path d="M131.7 546.5h0M141.5 546.6h0M131.2 546.5h0M132.7 546.5h0M132.1 546.4h0M135.1 541.9h0M132.1 546.9h0M136.3 541.4h0M133.2 544.7h0M133.2 550.9h0M133.0 546.2h0M131.1 547.3h0M136.2 542.8h0M136.3 545.5h0M131.7 544.0h0M137.2 545.8h0M130.1 544.9h0M133.6 549.1h0M129.6 542.5h0M136.2 543.0h0M134.1 546.5h0M131.6 545.3h0M132.7 549.2h0M139.1 543.6h0M130.1 545.8h0" stroke="#000" stroke-opacity="0.8" stroke-width="1.1" stroke-linecap="square" fill="none"/>
<path d="M133.9 546.7h0M130.3 546.7h0M140.6 545.8h0M132.6 547.9h0M133.1 547.0h0M138.0 541.4h0M134.8 547.2h0M132.5 549.4h0M139.6 542.2h0M140.2 542.1h0M129.8 548.0h0M135.1 541.5h0M134.2 541.2h0M133.4 543.8h0M137.0 544.9h0M138.7 543.4h0M126.8 547.9h0M132.1 543.2h0M136.4 548.1h0M138.9 544.4h0M138.1 544.2h0M132.9 542.4h0M138.4 542.3h0M137.6 544.4h0M135.5 542.6h0" stroke="#000" stroke-opacity="0.8" stroke-width="1.1" stroke-linecap="square" fill="none"/>
<path d="M139.8 543.8h0M139.3 541.8h0M136.1 541.2h0M135.7 542.5h0M132.8 545.6h0M136.6 546.8h0M129.9 547.6h0M150.2 537.8h0M135.0 547.3h0M139.9 542.6h0M134.8 545.2h0M137.7 543.7h0M132.8 547.1h0M133.4 546.3h0M135.4 542.0h0M137.6 544.1h0M139.2 543.5h0M127.2 548.0h0M135.4 545.2h0M134.7 549.0h0M138.6 544.7h0M132.6 545.6h0M137.3 542.7h0M143.7 539.9h0M139.0 544.0h0" stroke="#000" stroke-opacity="0.8" stroke-width="1.1" stroke-linecap="square" fill="none"/>
<path d="M136.1 543.7h0M141.0 543.8h0M136.9 542.7h0M139.3 544.6h0M136.8 542.7h0M139.6 540.8h0M141.0 542.0h0M137.9 544.1h0M132.9 544.3h0M137.9 541.5h0M125.1 545.2h0M132.0 545.3h0M137.4 541.1h0M134.8 545.8h0M132.7 544.8h0M135.5 544.8h0M143.3 541.6h0M133.3 546.8h0M137.5 544.9h0M127.1 545.7h0M132.3 545.1h0M133.9 545.7h0M133.9 542.0h0M134.4 544.4h0M203.9 556.0h0" stroke="#000" stroke-opacity="0.8" stroke-width="1.1" stroke-linecap="square" fill="none"/>
<path d="M201.0 545.3h0M200.7 548.9h0M202.2 553.9h0M194.0 547.4h0M197.6 551.2h0M204.8 548.5h0M201.8 552.2h0M197.7 555.0h0M193.7 551.9h0M198.7 543.0h0M198.7 540.3h0M202.1 547.9h0M201.6 542.7h0M200.7 553.1h0M199.8 556.2h0M203.6 544.7h0M197.5 555.3h0M196.2 549.8h0M203.1 544.4h0M193.4 548.2h0M199.3 543.4h0M197.3 548.6h0M198.9 549.4h0M193.8 540.8h0M202.7 545.7h0" stroke="#000" stroke-opacity="0.8" stroke-width="1.1" stroke-linecap="square" fill="none"/>
<path d="M200.0 546.5h0M199.7 550.3h0M196.0 554.5h0M192.9 551.8h0M199.7 549.2h0M197.0 550.2h0M198.6 555.1h0M197.0 549.2h0M196.1 553.6h0M202.1 551.1h0M197.0 549.1h0M202.5 547.8h0M196.0 552.5h0M193.3 546.3h0M207.9 552.6h0M197.1 550.5h0M196.8 554.0h0M199.2 549.1h0M200.5 546.9h0M197.7 549.9h0M199.5 542.7h0M197.7 551.1h0M192.5 551.9h0M192.3 549.1h0M203.0 550.0h0" stroke="#000" stroke-opacity="0.8" stroke-width="1.1" stroke-linecap="square" fill="none"/>
<path d="M203.2 549.4h0M206.2 550.2h0M203.2 544.4h0M193.3 552.3h0M207.9 544.8h0M197.0 546.6h0M205.1 545.2h0M205.4 547.9h0M198.6 549.7h0M197.3 543.5h0M206.0 547.3h0M192.6 550.0h0M194.8 552.2h0M198.7 552.5h0M193.7 548.6h0M195.0 549.3h0M197.1 554.1h0M192.3 555.2h0M207.7 551.8h0M197.4 546.7h0M199.8 549.0h0M202.3 554.3h0M196.1 548.3h0M204.9 553.0h0M193.5 556.1h0" stroke="#000" stroke-opacity="0.8" stroke-width="1.1" stroke-linecap="square" fill="none"/>
<path d="M198.2 542.0h0M203.2 542.0h0M192.1 551.5h0M205.0 552.3h0M198.3 555.4h0M201.5 550.0h0M203.5 551.5h0M203.9 544.4h0M202.9 545.9h0M194.0 551.7h0M200.4 553.4h0M200.0 552.8h0M192.1 550.6h0M201.4 548.0h0M205.9 546.9h0M192.8 546.5h0M197.5 556.0h0M195.7 551.3h0M196.3 556.1h0M204.5 549.2h0M206.8 553.6h0M192.7 550.4h0M200.6 543.5h0M198.9 551.5h0M200.6 553.8h0" stroke="#000" stroke-opacity="0.8" stroke-width="1.1" stroke-linecap="square" fill="none"/>
<path d="M201.6 550.8h0M204.9 551.2h0M192.6 555.5h0M194.2 548.7h0M192.0 555.4h0M196.7 554.2h0M198.7 553.3h0M207.1 547.2h0M192.1 548.7h0M197.5 554.6h0M205.2 544.7h0M202.6 547.2h0M198.5 554.4h0M193.6 555.4h0M194.3 554.5h0M198.6 554.7h0M208.8 550.5h0M200.0 544.9h0M198.2 553.6h0M202.7 545.0h0M196.5 548.5h0M196.5 545.4h0M196.4 555.1h0M205.4 547.0h0M195.3 555.1h0" stroke="#000" stroke-opacity="0.8" stroke-width="1.1" stroke-linecap="square" fill="none"/>
<path d="M197.9 556.2h0M193.1 548.9h0M205.7 551.1h0M228.5 548.5h0M228.7 546.8h0M227.5 545.7h0M234.0 550.0h0M231.5 548.4h0M226.6 545.2h0M229.3 547.1h0M228.8 548.5h0M227.1 547.0h0M232.2 542.9h0M230.2 546.3h0M228.7 545.9h0M227.7 545.8h0M234.0 542.1h0M232.4 547.4h0M230.4 547.2h0M229.1 546.6h0M224.4 543.6h0M228.4 548.2h0M231.5 545.5h0M230.1 544.4h0M231.9 544.8h0" stroke="#000" stroke-opacity="0.8" stroke-width="1.1" stroke-linecap="square" fill="none"/>
<path d="M227.6 547.3h0M229.3 546.2h0M227.6 547.3h0M232.6 542.1h0M232.5 547.3h0M235.2 549.5h0M229.1 544.2h0M230.7 548.0h0M231.0 546.3h0M229.4 545.1h0M231.5 551.2h0M231.8 548.6h0M231.3 542.3h0M234.0 543.0h0M234.4 543.2h0M233.5 539.7h0M227.0 544.1h0M228.5 549.0h0M232.5 546.8h0M228.0 544.9h0M228.1 546.3h0M231.2 543.8h0M232.8 543.1h0M226.8 546.5h0M236.1 539.6h0" stroke="#000" stroke-opacity="0.8" stroke-width="1.1" stroke-linecap="square" fill="none"/>
<path d="M228.9 546.3h0M232.9 547.5h0M231.2 542.2h0M228.9 541.0h0M235.6 540.9h0M236.1 542.0h0M235.6 547.1h0M226.9 545.5h0M231.4 542.1h0M231.5 539.5h0M228.3 545.8h0M233.6 541.7h0M221.3 548.0h0M236.1 540.9h0M233.4 546.6h0M225.9 544.9h0M229.3 547.1h0M227.4 542.9h0M239.3 543.2h0M229.0 547.4h0M229.0 541.7h0M232.8 543.6h0M234.2 544.7h0M230.7 543.7h0M229.3 545.6h0" stroke="#000" stroke-opacity="0.8" stroke-width="1.1" stroke-linecap="square" fill="none"/>
<path d="M236.1 541.3h0M225.7 545.7h0M229.2 549.0h0M230.8 543.5h0M236.8 541.1h0M233.2 546.0h0M222.5 546.4h0M233.5 543.8h0M226.2 549.4h0M224.7 544.8h0M239.8 542.5h0M229.7 543.0h0M233.6 544.1h0M223.4 549.2h0M233.0 542.4h0M239.0 537.4h0M229.8 544.2h0M242.9 539.4h0M239.0 541.7h0M238.3 542.9h0M229.2 545.8h0M232.4 547.1h0M230.8 544.3h0M236.4 544.9h0M229.7 542.3h0" stroke="#000" stroke-opacity="0.8" stroke-width="1.1" stroke-linecap="square" fill="none"/>
<path d="M231.3 546.8h0M232.6 541.4h0M230.0 544.0h0M233.2 540.6h0M230.1 545.9h0M233.1 542.8h0M237.5 539.7h0M224.2 547.2h0M231.2 546.0h0M235.7 540.4h0M227.3 550.9h0M223.1 548.9h0M230.6 539.8h0M238.3 544.7h0M232.9 547.0h0M227.7 543.8h0M229.0 544.4h0M228.8 544.9h0" stroke="#000" stroke-opacity="0.8" stroke-width="1.1" stroke-linecap="square" fill="none"/>
<path d="M97.2 555.1h0M98.7 555.3h0M99.3 554.9h0M98.9 554.3h0M100.9 556.0h0M97.5 555.9h0M100.7 555.4h0M98.4 555.7h0M96.9 552.4h0M97.6 551.0h0M141.9 543.7h0M132.6 545.0h0M137.2 540.7h0M136.9 538.7h0M133.8 546.3h0M138.1 541.8h0M137.3 546.5h0M139.2 540.3h0M135.4 544.1h0M135.1 544.5h0M137.6 546.9h0M139.7 538.8h0M134.0 545.7h0M132.3 543.3h0M138.8 543.6h0M128.1 545.9h0M129.0 542.5h0M132.3 546.5h0M130.6 546.9h0M132.1 543.1h0M135.0 544.7h0M134.9 546.6h0M138.4 541.6h0M137.8 543.5h0M130.0 546.0h0M140.2 537.9h0M138.0 542.3h0M139.0 543.6h0M128.6 542.5h0M135.8 541.5h0M131.9 544.8h0M140.0 538.4h0M132.2 543.2h0M131.0 545.6h0M193.9 552.9h0M193.8 555.2h0M192.7 551.7h0M197.1 554.9h0M193.3 550.3h0M192.4 555.3h0M192.8 554.1h0M192.0 552.6h0M194.8 554.3h0M195.9 553.9h0M229.5 542.4h0M236.5 542.8h0M231.0 544.6h0M230.9 542.3h0M225.5 547.2h0M228.4 546.6h0M224.0 543.7h0M221.4 550.5h0M225.4 548.7h0M232.2 545.9h0M231.9 541.9h0M235.9 537.6h0M231.2 539.6h0M241.4 538.3h0M237.5 546.0h0M229.9 546.5h0M231.4 539.4h0M225.6 544.5h0M228.8 545.0h0M229.8 546.1h0M229.6 539.6h0M224.0 549.2h0M234.2 537.7h0M228.2 543.5h0M231.1 542.5h0M241.2 541.1h0M232.6 543.2h0M231.3 542.7h0M232.2 541.5h0M229.9 544.3h0M234.6 543.8h0M233.1 543.3h0M236.8 542.0h0M226.4 543.2h0M236.8 539.8h0M227.9 542.5h0M230.1 540.5h0M230.1 545.8h0M237.2 542.9h0M235.3 545.5h0" stroke="#000" stroke-width="1.1" stroke-linecap="square" fill="none"/>
<text x="100" y="497.3" font-size="9.7" text-anchor="start">1.3</text>
<text x="177" y="497.3" font-size="9.7" text-anchor="end">1.1</text>
<text x="178.3" y="553.5" font-size="9.7" text-anchor="end">8.8</text>
<text x="194.5" y="497.9" font-size="9.7" text-anchor="start">0.4</text>
<text x="272.3" y="496.8" font-size="9.7" text-anchor="end">4.9</text>
<text x="272.5" y="552.4" font-size="9.7" text-anchor="end">15.3</text>
<rect x="378.8" y="465" width="89.80000000000001" height="93.79999999999995" fill="none" stroke="#000" stroke-width="1.5"/>
<line x1="374.8" y1="465" x2="378.8" y2="465" stroke="#000" stroke-width="1.5"/>
<text x="372.6" y="468.74" font-size="11" text-anchor="end">30</text>
<line x1="374.8" y1="496.27" x2="378.8" y2="496.27" stroke="#000" stroke-width="1.5"/>
<text x="372.6" y="500.01" font-size="11" text-anchor="end">20</text>
<line x1="374.8" y1="527.53" x2="378.8" y2="527.53" stroke="#000" stroke-width="1.5"/>
<text x="372.6" y="531.27" font-size="11" text-anchor="end">10</text>
<line x1="374.8" y1="558.8" x2="378.8" y2="558.8" stroke="#000" stroke-width="1.5"/>
<text x="372.6" y="562.54" font-size="11" text-anchor="end">0</text>
<line x1="400.95000000000005" y1="519" x2="400.95000000000005" y2="534.2" stroke="#000" stroke-width="1.4"/>
<line x1="398.70000000000005" y1="519" x2="403.20000000000005" y2="519" stroke="#000" stroke-width="1.68"/>
<rect x="392.20000000000005" y="534.8000000000001" width="17.49999999999999" height="23.999999999999908" fill="#fff" stroke="#000" stroke-width="1.4"/>
<line x1="446.1" y1="481.1" x2="446.1" y2="488" stroke="#000" stroke-width="1.4"/>
<line x1="443.85" y1="481.1" x2="448.35" y2="481.1" stroke="#000" stroke-width="1.68"/>
<rect x="437" y="488" width="18.19999999999999" height="70.79999999999995" fill="#000"/>
<text x="445.9" y="480" font-size="10" text-anchor="middle">*</text>
<text x="400.6" y="574.2" font-size="12" text-anchor="middle">Sx +</text>
<text x="401.5" y="590.6" font-size="12" text-anchor="middle">Immun</text>
<text x="443.9" y="574.2" font-size="12" text-anchor="middle">Cx +</text>
<text x="449.5" y="590.6" font-size="12" text-anchor="middle">Immun</text>
<text x="349.6" y="516.2" font-size="12.8" text-anchor="middle" transform="rotate(-90 349.6 516.2)">% CD8<tspan font-size="9.5" dy="-4.8">+</tspan><tspan dy="4.8">IFN-</tspan><tspan font-weight="normal" font-style="italic">γ</tspan><tspan font-size="9.5" dy="-4.8">+</tspan><tspan dy="4.8">/CD8</tspan><tspan font-size="9.5" dy="-4.8">+</tspan></text>
<rect x="0" y="0" width="520" height="1.3" fill="#555"/>
<rect x="0" y="1.3" width="520" height="0.8" fill="#aaa"/>
<rect x="0" y="0" width="1.3" height="608" fill="#555"/>
<rect x="1.3" y="0" width="0.8" height="608" fill="#aaa"/>
<rect x="517.8" y="0" width="1" height="608" fill="#aaa"/>
<rect x="518.8" y="0" width="1.2" height="608" fill="#777"/>
<rect x="0" y="605.8" width="520" height="1" fill="#aaa"/>
<rect x="0" y="606.8" width="520" height="1.2" fill="#777"/>
</svg>
</body></html>
